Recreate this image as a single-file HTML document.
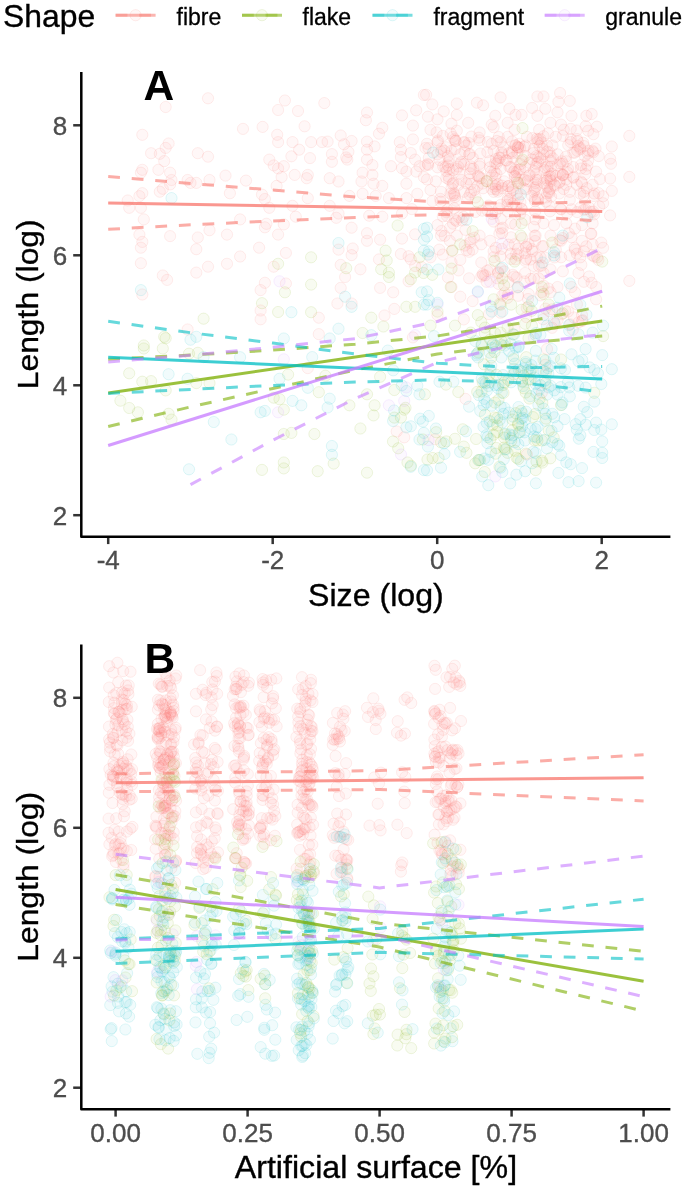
<!DOCTYPE html>
<html><head><meta charset="utf-8"><style>html,body{margin:0;padding:0;background:#fff}svg{display:block;will-change:transform;filter:blur(0.35px)}text{font-family:"Liberation Sans", sans-serif}</style></head>
<body><svg width="685" height="1189" viewBox="0 0 685 1189">
<rect width="685" height="1189" fill="#fff"/>
<defs><clipPath id="cA"><rect x="81.3" y="71.9" width="589.1" height="464.9"/></clipPath><clipPath id="cB"><rect x="81.3" y="644.4" width="589.1" height="464.9"/></clipPath></defs>
<text transform="translate(3.0,26.6) scale(1.045,1)" font-size="30.5" fill="#000" stroke="#000" stroke-width="0.35">Shape</text>
<circle cx="135.6" cy="15.2" r="5.6" fill="#F8766D" fill-opacity="0.055" stroke="#F8766D" stroke-opacity="0.12" stroke-width="1.0"/>
<line x1="115.6" y1="15.2" x2="155.6" y2="15.2" stroke="#F8766D" stroke-opacity="0.5319999999999999" stroke-width="3.0"/>
<line x1="115.6" y1="15.2" x2="155.6" y2="15.2" stroke="#F8766D" stroke-opacity="0.36" stroke-width="3.0" stroke-dasharray="11.8 11.8"/>
<text x="176.5" y="25" font-size="23" fill="#000" stroke="#000" stroke-width="0.3">fibre</text>
<circle cx="262.0" cy="15.2" r="5.6" fill="#7CAE00" fill-opacity="0.055" stroke="#7CAE00" stroke-opacity="0.12" stroke-width="1.0"/>
<line x1="242.0" y1="15.2" x2="282.0" y2="15.2" stroke="#7CAE00" stroke-opacity="0.5319999999999999" stroke-width="3.0"/>
<line x1="242.0" y1="15.2" x2="282.0" y2="15.2" stroke="#7CAE00" stroke-opacity="0.36" stroke-width="3.0" stroke-dasharray="11.8 11.8"/>
<text x="302.5" y="25" font-size="23" fill="#000" stroke="#000" stroke-width="0.3">flake</text>
<circle cx="392.5" cy="15.2" r="5.6" fill="#00BFC4" fill-opacity="0.055" stroke="#00BFC4" stroke-opacity="0.12" stroke-width="1.0"/>
<line x1="372.5" y1="15.2" x2="412.5" y2="15.2" stroke="#00BFC4" stroke-opacity="0.5319999999999999" stroke-width="3.0"/>
<line x1="372.5" y1="15.2" x2="412.5" y2="15.2" stroke="#00BFC4" stroke-opacity="0.36" stroke-width="3.0" stroke-dasharray="11.8 11.8"/>
<text x="433.4" y="25" font-size="23" fill="#000" stroke="#000" stroke-width="0.3">fragment</text>
<circle cx="564.7" cy="15.2" r="5.6" fill="#C77CFF" fill-opacity="0.055" stroke="#C77CFF" stroke-opacity="0.12" stroke-width="1.0"/>
<line x1="544.7" y1="15.2" x2="584.7" y2="15.2" stroke="#C77CFF" stroke-opacity="0.5319999999999999" stroke-width="3.0"/>
<line x1="544.7" y1="15.2" x2="584.7" y2="15.2" stroke="#C77CFF" stroke-opacity="0.36" stroke-width="3.0" stroke-dasharray="11.8 11.8"/>
<text x="605.3" y="25" font-size="23" fill="#000" stroke="#000" stroke-width="0.3">granule</text>
<g clip-path="url(#cA)">
<g fill="#F8766D" fill-opacity="0.055" stroke="#F8766D" stroke-opacity="0.12" stroke-width="1.0">
<circle cx="208.0" cy="98.3" r="5.6"/><circle cx="165.7" cy="107.0" r="5.6"/><circle cx="142.3" cy="134.8" r="5.6"/><circle cx="243.0" cy="128.9" r="5.6"/><circle cx="262.6" cy="126.9" r="5.6"/><circle cx="278.1" cy="110.0" r="5.6"/><circle cx="277.2" cy="134.8" r="5.6"/><circle cx="278.1" cy="142.1" r="5.6"/><circle cx="168.6" cy="143.5" r="5.6"/><circle cx="165.7" cy="147.9" r="5.6"/><circle cx="151.1" cy="153.2" r="5.6"/><circle cx="159.8" cy="153.8" r="5.6"/><circle cx="164.2" cy="161.1" r="5.6"/><circle cx="197.8" cy="153.2" r="5.6"/><circle cx="208.0" cy="156.7" r="5.6"/><circle cx="269.3" cy="159.6" r="5.6"/><circle cx="273.7" cy="165.4" r="5.6"/><circle cx="278.1" cy="168.4" r="5.6"/><circle cx="142.3" cy="169.8" r="5.6"/><circle cx="140.9" cy="172.7" r="5.6"/><circle cx="158.4" cy="169.8" r="5.6"/><circle cx="170.1" cy="172.7" r="5.6"/><circle cx="171.5" cy="180.0" r="5.6"/><circle cx="170.1" cy="184.4" r="5.6"/><circle cx="187.6" cy="180.0" r="5.6"/><circle cx="190.5" cy="182.9" r="5.6"/><circle cx="196.3" cy="182.9" r="5.6"/><circle cx="209.5" cy="180.0" r="5.6"/><circle cx="225.5" cy="175.6" r="5.6"/><circle cx="246.0" cy="180.6" r="5.6"/><circle cx="142.3" cy="193.2" r="5.6"/><circle cx="139.4" cy="196.1" r="5.6"/><circle cx="159.8" cy="191.7" r="5.6"/><circle cx="162.8" cy="188.8" r="5.6"/><circle cx="229.9" cy="193.2" r="5.6"/><circle cx="262.0" cy="194.6" r="5.6"/><circle cx="264.9" cy="199.0" r="5.6"/><circle cx="276.6" cy="185.9" r="5.6"/><circle cx="127.7" cy="200.5" r="5.6"/><circle cx="129.2" cy="207.8" r="5.6"/><circle cx="140.9" cy="207.8" r="5.6"/><circle cx="269.3" cy="207.8" r="5.6"/><circle cx="143.8" cy="219.4" r="5.6"/><circle cx="240.1" cy="219.4" r="5.6"/><circle cx="266.4" cy="223.8" r="5.6"/><circle cx="139.4" cy="234.6" r="5.6"/><circle cx="142.3" cy="241.9" r="5.6"/><circle cx="140.9" cy="247.7" r="5.6"/><circle cx="170.1" cy="236.1" r="5.6"/><circle cx="197.8" cy="237.5" r="5.6"/><circle cx="209.5" cy="230.2" r="5.6"/><circle cx="196.3" cy="249.2" r="5.6"/><circle cx="227.0" cy="234.6" r="5.6"/><circle cx="264.9" cy="227.3" r="5.6"/><circle cx="278.1" cy="234.6" r="5.6"/><circle cx="259.1" cy="247.7" r="5.6"/><circle cx="240.1" cy="256.5" r="5.6"/><circle cx="227.0" cy="263.8" r="5.6"/><circle cx="208.0" cy="266.7" r="5.6"/><circle cx="196.3" cy="272.6" r="5.6"/><circle cx="140.9" cy="263.2" r="5.6"/><circle cx="162.8" cy="275.5" r="5.6"/><circle cx="167.1" cy="279.9" r="5.6"/><circle cx="142.3" cy="294.5" r="5.6"/><circle cx="264.9" cy="282.8" r="5.6"/><circle cx="260.6" cy="290.1" r="5.6"/><circle cx="273.7" cy="266.7" r="5.6"/><circle cx="260.6" cy="310.5" r="5.6"/><circle cx="260.6" cy="319.3" r="5.6"/><circle cx="187.6" cy="329.5" r="5.6"/><circle cx="284.9" cy="100.5" r="5.6"/><circle cx="298.0" cy="111.0" r="5.6"/><circle cx="304.6" cy="126.3" r="5.6"/><circle cx="324.3" cy="103.1" r="5.6"/><circle cx="292.5" cy="142.1" r="5.6"/><circle cx="299.1" cy="149.7" r="5.6"/><circle cx="291.4" cy="156.3" r="5.6"/><circle cx="311.1" cy="142.1" r="5.6"/><circle cx="310.0" cy="158.1" r="5.6"/><circle cx="322.1" cy="142.1" r="5.6"/><circle cx="327.6" cy="141.6" r="5.6"/><circle cx="331.9" cy="154.1" r="5.6"/><circle cx="331.9" cy="161.8" r="5.6"/><circle cx="340.7" cy="135.5" r="5.6"/><circle cx="344.0" cy="144.3" r="5.6"/><circle cx="351.6" cy="141.0" r="5.6"/><circle cx="348.4" cy="151.9" r="5.6"/><circle cx="346.2" cy="157.4" r="5.6"/><circle cx="347.3" cy="159.6" r="5.6"/><circle cx="367.0" cy="112.5" r="5.6"/><circle cx="365.9" cy="120.2" r="5.6"/><circle cx="382.3" cy="127.8" r="5.6"/><circle cx="379.0" cy="133.7" r="5.6"/><circle cx="367.0" cy="141.6" r="5.6"/><circle cx="374.6" cy="146.4" r="5.6"/><circle cx="367.0" cy="149.7" r="5.6"/><circle cx="367.0" cy="159.6" r="5.6"/><circle cx="372.4" cy="165.1" r="5.6"/><circle cx="362.6" cy="172.7" r="5.6"/><circle cx="372.4" cy="174.9" r="5.6"/><circle cx="391.0" cy="166.2" r="5.6"/><circle cx="402.0" cy="115.4" r="5.6"/><circle cx="416.2" cy="110.3" r="5.6"/><circle cx="412.9" cy="125.6" r="5.6"/><circle cx="423.9" cy="95.0" r="5.6"/><circle cx="399.8" cy="142.1" r="5.6"/><circle cx="400.9" cy="149.7" r="5.6"/><circle cx="400.9" cy="157.0" r="5.6"/><circle cx="412.9" cy="139.4" r="5.6"/><circle cx="410.8" cy="153.0" r="5.6"/><circle cx="415.1" cy="159.6" r="5.6"/><circle cx="419.5" cy="166.2" r="5.6"/><circle cx="402.0" cy="168.3" r="5.6"/><circle cx="406.4" cy="171.6" r="5.6"/><circle cx="416.2" cy="171.6" r="5.6"/><circle cx="294.7" cy="174.9" r="5.6"/><circle cx="307.8" cy="174.9" r="5.6"/><circle cx="306.7" cy="178.2" r="5.6"/><circle cx="283.8" cy="166.2" r="5.6"/><circle cx="329.7" cy="178.2" r="5.6"/><circle cx="338.5" cy="181.5" r="5.6"/><circle cx="361.5" cy="181.5" r="5.6"/><circle cx="373.5" cy="183.7" r="5.6"/><circle cx="382.3" cy="185.9" r="5.6"/><circle cx="406.4" cy="183.7" r="5.6"/><circle cx="423.9" cy="177.1" r="5.6"/><circle cx="281.6" cy="177.1" r="5.6"/><circle cx="292.5" cy="205.8" r="5.6"/><circle cx="295.8" cy="216.7" r="5.6"/><circle cx="283.8" cy="224.4" r="5.6"/><circle cx="285.9" cy="252.9" r="5.6"/><circle cx="285.9" cy="283.5" r="5.6"/><circle cx="307.8" cy="198.1" r="5.6"/><circle cx="338.5" cy="213.5" r="5.6"/><circle cx="336.3" cy="217.8" r="5.6"/><circle cx="351.6" cy="227.7" r="5.6"/><circle cx="367.0" cy="233.2" r="5.6"/><circle cx="367.0" cy="240.8" r="5.6"/><circle cx="380.1" cy="239.7" r="5.6"/><circle cx="352.7" cy="248.5" r="5.6"/><circle cx="351.6" cy="255.1" r="5.6"/><circle cx="338.5" cy="249.6" r="5.6"/><circle cx="340.7" cy="264.9" r="5.6"/><circle cx="345.1" cy="277.0" r="5.6"/><circle cx="360.4" cy="269.3" r="5.6"/><circle cx="379.0" cy="259.4" r="5.6"/><circle cx="402.0" cy="238.6" r="5.6"/><circle cx="415.1" cy="234.3" r="5.6"/><circle cx="400.9" cy="254.0" r="5.6"/><circle cx="408.6" cy="256.2" r="5.6"/><circle cx="410.8" cy="259.4" r="5.6"/><circle cx="415.1" cy="266.0" r="5.6"/><circle cx="421.7" cy="267.1" r="5.6"/><circle cx="408.6" cy="281.3" r="5.6"/><circle cx="380.1" cy="287.9" r="5.6"/><circle cx="393.2" cy="292.3" r="5.6"/><circle cx="340.7" cy="287.9" r="5.6"/><circle cx="369.2" cy="215.7" r="5.6"/><circle cx="382.3" cy="216.7" r="5.6"/><circle cx="402.0" cy="213.5" r="5.6"/><circle cx="411.9" cy="209.1" r="5.6"/><circle cx="329.7" cy="205.8" r="5.6"/><circle cx="349.4" cy="195.9" r="5.6"/><circle cx="362.6" cy="193.8" r="5.6"/><circle cx="375.7" cy="195.9" r="5.6"/><circle cx="388.9" cy="198.1" r="5.6"/><circle cx="406.4" cy="198.1" r="5.6"/><circle cx="417.3" cy="193.8" r="5.6"/><circle cx="318.8" cy="317.7" r="5.6"/><circle cx="318.8" cy="334.1" r="5.6"/><circle cx="337.4" cy="303.5" r="5.6"/><circle cx="351.6" cy="303.5" r="5.6"/><circle cx="384.5" cy="315.5" r="5.6"/><circle cx="394.3" cy="308.9" r="5.6"/><circle cx="412.9" cy="337.4" r="5.6"/><circle cx="307.8" cy="368.1" r="5.6"/><circle cx="404.2" cy="437.3" r="5.6"/><circle cx="426.1" cy="94.8" r="5.6"/><circle cx="432.3" cy="104.4" r="5.6"/><circle cx="443.7" cy="111.4" r="5.6"/><circle cx="456.8" cy="103.5" r="5.6"/><circle cx="476.9" cy="102.7" r="5.6"/><circle cx="483.1" cy="105.3" r="5.6"/><circle cx="500.6" cy="97.4" r="5.6"/><circle cx="456.8" cy="114.9" r="5.6"/><circle cx="468.2" cy="122.8" r="5.6"/><circle cx="427.9" cy="116.7" r="5.6"/><circle cx="437.5" cy="119.3" r="5.6"/><circle cx="451.5" cy="123.7" r="5.6"/><circle cx="456.8" cy="130.7" r="5.6"/><circle cx="430.5" cy="129.8" r="5.6"/><circle cx="436.6" cy="132.4" r="5.6"/><circle cx="442.8" cy="135.9" r="5.6"/><circle cx="450.7" cy="133.3" r="5.6"/><circle cx="427.0" cy="143.8" r="5.6"/><circle cx="437.5" cy="142.1" r="5.6"/><circle cx="446.3" cy="147.3" r="5.6"/><circle cx="455.0" cy="149.1" r="5.6"/><circle cx="463.8" cy="142.1" r="5.6"/><circle cx="466.4" cy="145.6" r="5.6"/><circle cx="479.6" cy="132.4" r="5.6"/><circle cx="478.7" cy="137.7" r="5.6"/><circle cx="479.6" cy="140.3" r="5.6"/><circle cx="491.8" cy="143.8" r="5.6"/><circle cx="493.6" cy="127.2" r="5.6"/><circle cx="491.8" cy="124.6" r="5.6"/><circle cx="495.3" cy="115.8" r="5.6"/><circle cx="509.3" cy="108.8" r="5.6"/><circle cx="515.5" cy="114.9" r="5.6"/><circle cx="521.6" cy="114.9" r="5.6"/><circle cx="507.6" cy="122.8" r="5.6"/><circle cx="532.1" cy="107.9" r="5.6"/><circle cx="537.4" cy="96.5" r="5.6"/><circle cx="537.4" cy="115.8" r="5.6"/><circle cx="514.6" cy="129.8" r="5.6"/><circle cx="526.9" cy="136.8" r="5.6"/><circle cx="507.6" cy="136.8" r="5.6"/><circle cx="500.6" cy="142.1" r="5.6"/><circle cx="493.6" cy="150.8" r="5.6"/><circle cx="518.1" cy="147.3" r="5.6"/><circle cx="533.9" cy="149.1" r="5.6"/><circle cx="480.4" cy="153.5" r="5.6"/><circle cx="469.1" cy="154.3" r="5.6"/><circle cx="460.3" cy="154.3" r="5.6"/><circle cx="448.0" cy="156.1" r="5.6"/><circle cx="437.5" cy="154.3" r="5.6"/><circle cx="428.8" cy="157.8" r="5.6"/><circle cx="502.3" cy="154.3" r="5.6"/><circle cx="512.9" cy="157.8" r="5.6"/><circle cx="525.1" cy="156.1" r="5.6"/><circle cx="537.4" cy="142.1" r="5.6"/><circle cx="536.5" cy="156.1" r="5.6"/><circle cx="539.1" cy="129.8" r="5.6"/><circle cx="560.1" cy="93.0" r="5.6"/><circle cx="558.4" cy="101.8" r="5.6"/><circle cx="569.8" cy="100.9" r="5.6"/><circle cx="543.5" cy="96.5" r="5.6"/><circle cx="545.3" cy="108.8" r="5.6"/><circle cx="557.5" cy="112.3" r="5.6"/><circle cx="571.5" cy="115.8" r="5.6"/><circle cx="586.4" cy="115.8" r="5.6"/><circle cx="591.7" cy="114.0" r="5.6"/><circle cx="550.5" cy="122.8" r="5.6"/><circle cx="561.0" cy="124.6" r="5.6"/><circle cx="570.7" cy="128.9" r="5.6"/><circle cx="585.6" cy="126.3" r="5.6"/><circle cx="588.2" cy="130.7" r="5.6"/><circle cx="593.4" cy="134.2" r="5.6"/><circle cx="547.9" cy="133.3" r="5.6"/><circle cx="555.8" cy="136.8" r="5.6"/><circle cx="562.8" cy="135.9" r="5.6"/><circle cx="547.0" cy="145.6" r="5.6"/><circle cx="570.7" cy="142.1" r="5.6"/><circle cx="577.7" cy="141.2" r="5.6"/><circle cx="629.3" cy="135.9" r="5.6"/><circle cx="611.8" cy="146.5" r="5.6"/><circle cx="610.1" cy="158.7" r="5.6"/><circle cx="592.6" cy="150.8" r="5.6"/><circle cx="598.7" cy="156.1" r="5.6"/><circle cx="584.7" cy="156.1" r="5.6"/><circle cx="588.2" cy="160.5" r="5.6"/><circle cx="573.3" cy="152.6" r="5.6"/><circle cx="557.5" cy="154.3" r="5.6"/><circle cx="550.5" cy="156.1" r="5.6"/><circle cx="543.5" cy="154.3" r="5.6"/><circle cx="566.3" cy="161.3" r="5.6"/><circle cx="541.8" cy="161.3" r="5.6"/><circle cx="580.3" cy="149.1" r="5.6"/><circle cx="425.3" cy="165.5" r="5.6"/><circle cx="437.5" cy="167.3" r="5.6"/><circle cx="448.0" cy="165.5" r="5.6"/><circle cx="456.8" cy="169.0" r="5.6"/><circle cx="470.8" cy="169.0" r="5.6"/><circle cx="479.6" cy="166.4" r="5.6"/><circle cx="490.1" cy="167.3" r="5.6"/><circle cx="500.6" cy="169.0" r="5.6"/><circle cx="511.1" cy="167.3" r="5.6"/><circle cx="525.1" cy="167.3" r="5.6"/><circle cx="533.9" cy="170.8" r="5.6"/><circle cx="427.0" cy="179.5" r="5.6"/><circle cx="435.8" cy="181.3" r="5.6"/><circle cx="446.3" cy="177.8" r="5.6"/><circle cx="458.5" cy="184.8" r="5.6"/><circle cx="469.1" cy="179.5" r="5.6"/><circle cx="477.8" cy="176.0" r="5.6"/><circle cx="495.3" cy="177.8" r="5.6"/><circle cx="504.1" cy="181.3" r="5.6"/><circle cx="514.6" cy="176.0" r="5.6"/><circle cx="525.1" cy="179.5" r="5.6"/><circle cx="535.6" cy="183.0" r="5.6"/><circle cx="430.5" cy="190.0" r="5.6"/><circle cx="441.0" cy="191.8" r="5.6"/><circle cx="451.5" cy="188.3" r="5.6"/><circle cx="463.8" cy="191.8" r="5.6"/><circle cx="474.3" cy="190.0" r="5.6"/><circle cx="483.1" cy="188.3" r="5.6"/><circle cx="493.6" cy="191.8" r="5.6"/><circle cx="502.3" cy="188.3" r="5.6"/><circle cx="512.9" cy="190.0" r="5.6"/><circle cx="523.4" cy="188.3" r="5.6"/><circle cx="533.9" cy="191.8" r="5.6"/><circle cx="455.0" cy="197.0" r="5.6"/><circle cx="518.1" cy="198.8" r="5.6"/><circle cx="442.8" cy="216.3" r="5.6"/><circle cx="455.0" cy="219.8" r="5.6"/><circle cx="437.5" cy="225.1" r="5.6"/><circle cx="493.6" cy="221.6" r="5.6"/><circle cx="500.6" cy="228.6" r="5.6"/><circle cx="511.1" cy="223.3" r="5.6"/><circle cx="525.1" cy="219.8" r="5.6"/><circle cx="533.9" cy="226.8" r="5.6"/><circle cx="441.0" cy="235.6" r="5.6"/><circle cx="449.8" cy="240.8" r="5.6"/><circle cx="456.8" cy="235.6" r="5.6"/><circle cx="479.6" cy="235.6" r="5.6"/><circle cx="481.3" cy="244.3" r="5.6"/><circle cx="490.1" cy="240.8" r="5.6"/><circle cx="511.1" cy="237.3" r="5.6"/><circle cx="514.6" cy="244.3" r="5.6"/><circle cx="528.6" cy="244.3" r="5.6"/><circle cx="535.6" cy="235.6" r="5.6"/><circle cx="439.3" cy="249.6" r="5.6"/><circle cx="472.6" cy="249.6" r="5.6"/><circle cx="493.6" cy="251.3" r="5.6"/><circle cx="525.1" cy="253.1" r="5.6"/><circle cx="545.3" cy="167.3" r="5.6"/><circle cx="557.5" cy="165.5" r="5.6"/><circle cx="568.0" cy="169.0" r="5.6"/><circle cx="550.5" cy="176.0" r="5.6"/><circle cx="562.8" cy="174.3" r="5.6"/><circle cx="573.3" cy="177.8" r="5.6"/><circle cx="543.5" cy="183.0" r="5.6"/><circle cx="554.0" cy="184.8" r="5.6"/><circle cx="566.3" cy="184.8" r="5.6"/><circle cx="576.8" cy="184.8" r="5.6"/><circle cx="547.0" cy="193.5" r="5.6"/><circle cx="559.3" cy="193.5" r="5.6"/><circle cx="569.8" cy="191.8" r="5.6"/><circle cx="582.0" cy="183.0" r="5.6"/><circle cx="583.8" cy="191.8" r="5.6"/><circle cx="592.6" cy="184.8" r="5.6"/><circle cx="596.1" cy="171.6" r="5.6"/><circle cx="610.1" cy="178.6" r="5.6"/><circle cx="611.0" cy="163.8" r="5.6"/><circle cx="611.8" cy="190.9" r="5.6"/><circle cx="603.1" cy="196.2" r="5.6"/><circle cx="594.3" cy="193.5" r="5.6"/><circle cx="603.1" cy="203.2" r="5.6"/><circle cx="587.3" cy="165.5" r="5.6"/><circle cx="629.3" cy="176.9" r="5.6"/><circle cx="610.1" cy="215.4" r="5.6"/><circle cx="592.6" cy="223.3" r="5.6"/><circle cx="585.6" cy="209.3" r="5.6"/><circle cx="571.5" cy="209.3" r="5.6"/><circle cx="543.5" cy="223.3" r="5.6"/><circle cx="554.0" cy="225.1" r="5.6"/><circle cx="566.3" cy="223.3" r="5.6"/><circle cx="575.0" cy="228.6" r="5.6"/><circle cx="582.0" cy="225.1" r="5.6"/><circle cx="590.8" cy="233.8" r="5.6"/><circle cx="601.3" cy="242.6" r="5.6"/><circle cx="603.1" cy="247.8" r="5.6"/><circle cx="592.6" cy="244.3" r="5.6"/><circle cx="582.0" cy="240.8" r="5.6"/><circle cx="571.5" cy="237.3" r="5.6"/><circle cx="561.0" cy="240.8" r="5.6"/><circle cx="550.5" cy="235.6" r="5.6"/><circle cx="543.5" cy="246.1" r="5.6"/><circle cx="555.8" cy="249.6" r="5.6"/><circle cx="575.0" cy="249.6" r="5.6"/><circle cx="583.8" cy="251.3" r="5.6"/><circle cx="442.8" cy="254.6" r="5.6"/><circle cx="451.5" cy="262.5" r="5.6"/><circle cx="458.5" cy="270.4" r="5.6"/><circle cx="448.0" cy="277.4" r="5.6"/><circle cx="469.1" cy="278.3" r="5.6"/><circle cx="460.3" cy="296.7" r="5.6"/><circle cx="472.6" cy="301.1" r="5.6"/><circle cx="481.3" cy="276.5" r="5.6"/><circle cx="486.6" cy="281.8" r="5.6"/><circle cx="490.1" cy="269.5" r="5.6"/><circle cx="500.6" cy="268.6" r="5.6"/><circle cx="481.3" cy="262.5" r="5.6"/><circle cx="493.6" cy="257.3" r="5.6"/><circle cx="511.1" cy="259.0" r="5.6"/><circle cx="518.1" cy="255.5" r="5.6"/><circle cx="525.1" cy="260.8" r="5.6"/><circle cx="533.9" cy="266.0" r="5.6"/><circle cx="525.1" cy="273.0" r="5.6"/><circle cx="533.9" cy="278.3" r="5.6"/><circle cx="512.9" cy="274.8" r="5.6"/><circle cx="518.1" cy="295.8" r="5.6"/><circle cx="528.6" cy="294.0" r="5.6"/><circle cx="463.8" cy="319.4" r="5.6"/><circle cx="437.5" cy="315.1" r="5.6"/><circle cx="430.5" cy="257.3" r="5.6"/><circle cx="451.5" cy="287.0" r="5.6"/><circle cx="561.0" cy="257.3" r="5.6"/><circle cx="569.8" cy="255.5" r="5.6"/><circle cx="580.3" cy="257.3" r="5.6"/><circle cx="592.6" cy="255.5" r="5.6"/><circle cx="550.5" cy="269.5" r="5.6"/><circle cx="562.8" cy="271.3" r="5.6"/><circle cx="578.5" cy="273.0" r="5.6"/><circle cx="589.1" cy="276.5" r="5.6"/><circle cx="583.8" cy="281.8" r="5.6"/><circle cx="596.1" cy="287.0" r="5.6"/><circle cx="596.1" cy="299.3" r="5.6"/><circle cx="550.5" cy="292.3" r="5.6"/><circle cx="557.5" cy="287.0" r="5.6"/><circle cx="571.5" cy="287.0" r="5.6"/><circle cx="575.0" cy="292.3" r="5.6"/><circle cx="629.3" cy="280.9" r="5.6"/><circle cx="568.0" cy="311.6" r="5.6"/><circle cx="582.0" cy="315.1" r="5.6"/><circle cx="557.5" cy="320.3" r="5.6"/><circle cx="526.9" cy="454.5" r="5.6"/><circle cx="547.0" cy="349.0" r="5.6"/><circle cx="545.3" cy="364.8" r="5.6"/><circle cx="541.8" cy="392.8" r="5.6"/><circle cx="453.3" cy="182.9" r="5.6"/><circle cx="486.9" cy="181.0" r="5.6"/><circle cx="470.9" cy="183.9" r="5.6"/><circle cx="536.0" cy="179.4" r="5.6"/><circle cx="520.5" cy="164.1" r="5.6"/><circle cx="466.3" cy="183.3" r="5.6"/><circle cx="494.4" cy="171.5" r="5.6"/><circle cx="467.9" cy="198.0" r="5.6"/><circle cx="497.9" cy="184.2" r="5.6"/><circle cx="427.8" cy="164.0" r="5.6"/><circle cx="445.4" cy="167.2" r="5.6"/><circle cx="538.0" cy="162.1" r="5.6"/><circle cx="463.9" cy="164.2" r="5.6"/><circle cx="496.8" cy="163.8" r="5.6"/><circle cx="428.2" cy="165.0" r="5.6"/><circle cx="452.6" cy="183.9" r="5.6"/><circle cx="516.7" cy="172.2" r="5.6"/><circle cx="454.0" cy="193.3" r="5.6"/><circle cx="509.5" cy="166.8" r="5.6"/><circle cx="516.8" cy="193.6" r="5.6"/><circle cx="547.1" cy="185.8" r="5.6"/><circle cx="547.9" cy="171.3" r="5.6"/><circle cx="559.8" cy="181.8" r="5.6"/><circle cx="559.2" cy="182.6" r="5.6"/><circle cx="548.5" cy="191.6" r="5.6"/><circle cx="551.1" cy="196.7" r="5.6"/><circle cx="560.6" cy="173.5" r="5.6"/><circle cx="547.0" cy="180.4" r="5.6"/><circle cx="555.1" cy="185.7" r="5.6"/><circle cx="559.9" cy="163.4" r="5.6"/><circle cx="570.8" cy="139.1" r="5.6"/><circle cx="569.8" cy="200.0" r="5.6"/><circle cx="586.7" cy="188.2" r="5.6"/><circle cx="453.1" cy="170.4" r="5.6"/><circle cx="501.9" cy="185.6" r="5.6"/><circle cx="491.7" cy="189.1" r="5.6"/><circle cx="460.7" cy="163.3" r="5.6"/><circle cx="520.1" cy="169.2" r="5.6"/><circle cx="446.4" cy="212.3" r="5.6"/><circle cx="546.0" cy="201.6" r="5.6"/><circle cx="487.6" cy="210.6" r="5.6"/><circle cx="567.2" cy="213.4" r="5.6"/><circle cx="459.5" cy="173.2" r="5.6"/><circle cx="492.5" cy="184.1" r="5.6"/><circle cx="468.8" cy="143.0" r="5.6"/><circle cx="508.4" cy="186.2" r="5.6"/><circle cx="492.2" cy="214.0" r="5.6"/><circle cx="496.0" cy="159.0" r="5.6"/><circle cx="567.4" cy="172.3" r="5.6"/><circle cx="472.8" cy="157.9" r="5.6"/><circle cx="590.8" cy="211.9" r="5.6"/><circle cx="538.1" cy="157.3" r="5.6"/><circle cx="549.5" cy="152.3" r="5.6"/><circle cx="481.4" cy="178.3" r="5.6"/><circle cx="495.2" cy="163.1" r="5.6"/><circle cx="595.5" cy="148.6" r="5.6"/><circle cx="532.4" cy="138.1" r="5.6"/><circle cx="441.1" cy="151.8" r="5.6"/><circle cx="598.5" cy="193.1" r="5.6"/><circle cx="576.9" cy="139.0" r="5.6"/><circle cx="544.3" cy="170.2" r="5.6"/><circle cx="497.9" cy="191.7" r="5.6"/><circle cx="479.0" cy="176.1" r="5.6"/><circle cx="470.6" cy="166.3" r="5.6"/><circle cx="518.3" cy="147.6" r="5.6"/><circle cx="473.3" cy="168.6" r="5.6"/><circle cx="507.7" cy="199.0" r="5.6"/><circle cx="537.5" cy="180.0" r="5.6"/><circle cx="577.2" cy="150.8" r="5.6"/><circle cx="443.2" cy="166.5" r="5.6"/><circle cx="449.0" cy="179.5" r="5.6"/><circle cx="525.4" cy="145.5" r="5.6"/><circle cx="550.3" cy="179.5" r="5.6"/><circle cx="499.1" cy="208.4" r="5.6"/><circle cx="574.8" cy="152.7" r="5.6"/><circle cx="454.2" cy="208.2" r="5.6"/><circle cx="452.5" cy="195.6" r="5.6"/><circle cx="479.7" cy="163.9" r="5.6"/><circle cx="521.9" cy="209.1" r="5.6"/><circle cx="425.4" cy="148.0" r="5.6"/><circle cx="551.0" cy="166.6" r="5.6"/><circle cx="475.4" cy="212.0" r="5.6"/><circle cx="471.2" cy="192.1" r="5.6"/><circle cx="593.7" cy="196.0" r="5.6"/><circle cx="549.1" cy="192.9" r="5.6"/><circle cx="565.9" cy="156.7" r="5.6"/><circle cx="534.7" cy="199.2" r="5.6"/><circle cx="580.4" cy="207.5" r="5.6"/><circle cx="583.2" cy="142.8" r="5.6"/><circle cx="490.9" cy="171.5" r="5.6"/><circle cx="581.0" cy="168.5" r="5.6"/><circle cx="471.4" cy="136.6" r="5.6"/><circle cx="475.5" cy="197.5" r="5.6"/><circle cx="428.5" cy="148.2" r="5.6"/><circle cx="479.4" cy="177.6" r="5.6"/><circle cx="488.5" cy="205.6" r="5.6"/><circle cx="461.3" cy="179.9" r="5.6"/><circle cx="561.1" cy="209.4" r="5.6"/><circle cx="577.9" cy="145.8" r="5.6"/><circle cx="563.6" cy="189.0" r="5.6"/><circle cx="498.8" cy="137.0" r="5.6"/><circle cx="454.4" cy="195.0" r="5.6"/><circle cx="439.7" cy="160.0" r="5.6"/><circle cx="469.7" cy="194.7" r="5.6"/><circle cx="487.8" cy="142.0" r="5.6"/><circle cx="489.8" cy="161.1" r="5.6"/><circle cx="550.5" cy="160.6" r="5.6"/><circle cx="546.4" cy="178.1" r="5.6"/><circle cx="580.4" cy="193.7" r="5.6"/><circle cx="496.4" cy="173.8" r="5.6"/><circle cx="507.5" cy="204.7" r="5.6"/><circle cx="449.2" cy="168.9" r="5.6"/><circle cx="518.6" cy="169.9" r="5.6"/><circle cx="529.7" cy="174.9" r="5.6"/><circle cx="497.4" cy="189.9" r="5.6"/><circle cx="482.6" cy="183.6" r="5.6"/><circle cx="552.5" cy="145.5" r="5.6"/><circle cx="482.1" cy="210.6" r="5.6"/><circle cx="594.1" cy="214.4" r="5.6"/><circle cx="432.4" cy="201.1" r="5.6"/><circle cx="588.7" cy="207.2" r="5.6"/><circle cx="550.1" cy="189.0" r="5.6"/><circle cx="550.9" cy="181.0" r="5.6"/><circle cx="563.0" cy="175.2" r="5.6"/><circle cx="464.5" cy="142.5" r="5.6"/><circle cx="583.9" cy="195.4" r="5.6"/><circle cx="456.0" cy="200.8" r="5.6"/><circle cx="477.6" cy="185.9" r="5.6"/><circle cx="487.3" cy="152.1" r="5.6"/><circle cx="455.7" cy="140.7" r="5.6"/><circle cx="438.0" cy="140.5" r="5.6"/><circle cx="440.7" cy="201.7" r="5.6"/><circle cx="515.6" cy="145.3" r="5.6"/><circle cx="516.9" cy="178.4" r="5.6"/><circle cx="511.9" cy="151.5" r="5.6"/><circle cx="501.0" cy="204.7" r="5.6"/><circle cx="492.2" cy="175.3" r="5.6"/><circle cx="587.8" cy="153.6" r="5.6"/><circle cx="552.0" cy="173.7" r="5.6"/><circle cx="562.8" cy="163.8" r="5.6"/><circle cx="540.5" cy="257.4" r="5.6"/><circle cx="582.6" cy="320.2" r="5.6"/><circle cx="552.1" cy="327.8" r="5.6"/><circle cx="565.2" cy="310.5" r="5.6"/><circle cx="586.3" cy="246.3" r="5.6"/><circle cx="598.3" cy="259.9" r="5.6"/><circle cx="534.6" cy="235.7" r="5.6"/><circle cx="576.8" cy="253.7" r="5.6"/><circle cx="559.6" cy="240.1" r="5.6"/><circle cx="515.7" cy="259.2" r="5.6"/><circle cx="500.8" cy="219.0" r="5.6"/><circle cx="570.1" cy="324.3" r="5.6"/><circle cx="499.4" cy="233.7" r="5.6"/><circle cx="515.2" cy="224.5" r="5.6"/><circle cx="554.5" cy="257.4" r="5.6"/><circle cx="543.1" cy="319.2" r="5.6"/><circle cx="582.0" cy="321.0" r="5.6"/><circle cx="591.6" cy="282.8" r="5.6"/><circle cx="535.3" cy="219.3" r="5.6"/><circle cx="483.3" cy="275.3" r="5.6"/><circle cx="581.3" cy="264.8" r="5.6"/><circle cx="470.5" cy="239.4" r="5.6"/><circle cx="568.8" cy="233.2" r="5.6"/><circle cx="495.9" cy="247.8" r="5.6"/><circle cx="549.2" cy="311.2" r="5.6"/><circle cx="498.5" cy="283.9" r="5.6"/><circle cx="538.9" cy="266.2" r="5.6"/><circle cx="545.5" cy="308.6" r="5.6"/><circle cx="498.3" cy="272.2" r="5.6"/><circle cx="482.7" cy="274.0" r="5.6"/><circle cx="572.8" cy="329.8" r="5.6"/><circle cx="531.8" cy="249.1" r="5.6"/><circle cx="545.3" cy="257.8" r="5.6"/><circle cx="485.2" cy="275.3" r="5.6"/><circle cx="573.9" cy="317.5" r="5.6"/><circle cx="597.2" cy="257.3" r="5.6"/><circle cx="502.7" cy="227.7" r="5.6"/><circle cx="526.7" cy="307.8" r="5.6"/><circle cx="500.5" cy="312.7" r="5.6"/><circle cx="562.5" cy="238.1" r="5.6"/><circle cx="552.1" cy="309.3" r="5.6"/><circle cx="591.3" cy="233.7" r="5.6"/><circle cx="576.9" cy="304.2" r="5.6"/><circle cx="501.7" cy="248.9" r="5.6"/><circle cx="594.4" cy="256.6" r="5.6"/><circle cx="507.6" cy="297.8" r="5.6"/><circle cx="487.3" cy="270.6" r="5.6"/><circle cx="516.6" cy="277.6" r="5.6"/><circle cx="548.4" cy="288.6" r="5.6"/><circle cx="526.2" cy="317.0" r="5.6"/><circle cx="578.6" cy="322.3" r="5.6"/><circle cx="528.0" cy="299.0" r="5.6"/><circle cx="526.0" cy="247.1" r="5.6"/><circle cx="554.7" cy="323.8" r="5.6"/><circle cx="574.6" cy="247.8" r="5.6"/><circle cx="499.7" cy="303.7" r="5.6"/><circle cx="561.7" cy="314.3" r="5.6"/><circle cx="489.0" cy="314.1" r="5.6"/><circle cx="526.2" cy="246.4" r="5.6"/><circle cx="514.6" cy="329.3" r="5.6"/><circle cx="542.8" cy="148.8" r="5.6"/><circle cx="510.8" cy="253.7" r="5.6"/><circle cx="496.8" cy="140.9" r="5.6"/><circle cx="497.2" cy="278.3" r="5.6"/><circle cx="511.7" cy="187.6" r="5.6"/><circle cx="534.7" cy="187.6" r="5.6"/><circle cx="531.9" cy="195.9" r="5.6"/><circle cx="509.9" cy="198.9" r="5.6"/><circle cx="503.4" cy="147.4" r="5.6"/><circle cx="538.6" cy="278.3" r="5.6"/><circle cx="518.0" cy="248.6" r="5.6"/><circle cx="538.1" cy="199.5" r="5.6"/><circle cx="530.6" cy="259.5" r="5.6"/><circle cx="498.9" cy="157.8" r="5.6"/><circle cx="532.5" cy="251.4" r="5.6"/><circle cx="504.3" cy="271.4" r="5.6"/><circle cx="535.0" cy="189.9" r="5.6"/><circle cx="512.0" cy="153.2" r="5.6"/><circle cx="517.3" cy="153.1" r="5.6"/><circle cx="522.2" cy="238.1" r="5.6"/><circle cx="524.1" cy="146.8" r="5.6"/><circle cx="526.1" cy="259.1" r="5.6"/><circle cx="502.1" cy="233.2" r="5.6"/><circle cx="536.0" cy="166.9" r="5.6"/><circle cx="540.7" cy="295.4" r="5.6"/><circle cx="530.6" cy="278.9" r="5.6"/><circle cx="508.6" cy="244.7" r="5.6"/><circle cx="541.3" cy="142.4" r="5.6"/><circle cx="536.0" cy="174.1" r="5.6"/><circle cx="535.1" cy="241.0" r="5.6"/><circle cx="535.1" cy="201.2" r="5.6"/><circle cx="517.5" cy="287.5" r="5.6"/><circle cx="498.6" cy="160.8" r="5.6"/><circle cx="543.6" cy="285.7" r="5.6"/><circle cx="502.3" cy="295.6" r="5.6"/><circle cx="508.3" cy="282.2" r="5.6"/><circle cx="540.2" cy="138.9" r="5.6"/><circle cx="495.5" cy="189.0" r="5.6"/><circle cx="541.6" cy="265.6" r="5.6"/><circle cx="514.3" cy="276.6" r="5.6"/><circle cx="510.4" cy="192.3" r="5.6"/><circle cx="504.5" cy="293.3" r="5.6"/><circle cx="535.2" cy="211.3" r="5.6"/><circle cx="508.2" cy="294.4" r="5.6"/><circle cx="514.8" cy="169.8" r="5.6"/><circle cx="516.2" cy="253.7" r="5.6"/><circle cx="533.5" cy="153.0" r="5.6"/><circle cx="542.3" cy="246.3" r="5.6"/><circle cx="498.1" cy="273.2" r="5.6"/><circle cx="543.6" cy="273.2" r="5.6"/><circle cx="495.5" cy="213.1" r="5.6"/><circle cx="524.5" cy="281.5" r="5.6"/><circle cx="520.1" cy="147.8" r="5.6"/><circle cx="541.7" cy="292.0" r="5.6"/><circle cx="519.3" cy="143.8" r="5.6"/><circle cx="536.9" cy="257.4" r="5.6"/><circle cx="543.6" cy="136.2" r="5.6"/><circle cx="516.8" cy="181.8" r="5.6"/><circle cx="500.4" cy="256.3" r="5.6"/><circle cx="512.1" cy="141.4" r="5.6"/><circle cx="444.7" cy="235.8" r="5.6"/><circle cx="461.2" cy="161.9" r="5.6"/><circle cx="464.4" cy="151.3" r="5.6"/><circle cx="463.6" cy="216.9" r="5.6"/><circle cx="440.2" cy="198.9" r="5.6"/><circle cx="465.4" cy="229.8" r="5.6"/><circle cx="464.7" cy="245.6" r="5.6"/><circle cx="466.5" cy="250.2" r="5.6"/><circle cx="454.5" cy="139.3" r="5.6"/><circle cx="446.3" cy="171.0" r="5.6"/><circle cx="441.5" cy="148.5" r="5.6"/><circle cx="458.2" cy="166.6" r="5.6"/><circle cx="450.0" cy="227.7" r="5.6"/><circle cx="469.9" cy="242.8" r="5.6"/><circle cx="453.0" cy="223.7" r="5.6"/><circle cx="469.8" cy="153.9" r="5.6"/><circle cx="447.0" cy="216.0" r="5.6"/><circle cx="449.3" cy="159.1" r="5.6"/><circle cx="452.9" cy="137.0" r="5.6"/><circle cx="455.3" cy="140.9" r="5.6"/><circle cx="448.6" cy="162.2" r="5.6"/><circle cx="451.5" cy="150.7" r="5.6"/><circle cx="456.5" cy="221.0" r="5.6"/><circle cx="451.9" cy="250.9" r="5.6"/><circle cx="470.1" cy="173.3" r="5.6"/><circle cx="441.4" cy="231.0" r="5.6"/><circle cx="448.4" cy="176.5" r="5.6"/><circle cx="460.3" cy="259.9" r="5.6"/><circle cx="450.5" cy="193.6" r="5.6"/><circle cx="462.0" cy="220.4" r="5.6"/><circle cx="447.4" cy="209.4" r="5.6"/><circle cx="459.0" cy="217.3" r="5.6"/><circle cx="444.0" cy="150.8" r="5.6"/><circle cx="474.1" cy="237.7" r="5.6"/><circle cx="469.0" cy="251.8" r="5.6"/><circle cx="547.8" cy="166.5" r="5.6"/><circle cx="536.5" cy="186.3" r="5.6"/><circle cx="525.8" cy="189.3" r="5.6"/><circle cx="512.6" cy="204.0" r="5.6"/><circle cx="517.4" cy="146.9" r="5.6"/><circle cx="495.6" cy="186.1" r="5.6"/><circle cx="507.7" cy="211.5" r="5.6"/><circle cx="505.7" cy="160.3" r="5.6"/><circle cx="549.1" cy="176.6" r="5.6"/><circle cx="545.7" cy="197.5" r="5.6"/><circle cx="501.5" cy="152.3" r="5.6"/><circle cx="516.3" cy="205.5" r="5.6"/><circle cx="513.4" cy="172.0" r="5.6"/><circle cx="521.4" cy="161.0" r="5.6"/><circle cx="538.3" cy="139.4" r="5.6"/><circle cx="507.4" cy="201.0" r="5.6"/><circle cx="528.9" cy="175.9" r="5.6"/><circle cx="515.3" cy="145.4" r="5.6"/><circle cx="520.1" cy="214.0" r="5.6"/><circle cx="527.7" cy="181.1" r="5.6"/><circle cx="549.5" cy="205.8" r="5.6"/><circle cx="550.0" cy="211.3" r="5.6"/><circle cx="531.7" cy="159.4" r="5.6"/><circle cx="529.5" cy="162.9" r="5.6"/><circle cx="539.6" cy="146.0" r="5.6"/><circle cx="520.4" cy="202.3" r="5.6"/><circle cx="520.0" cy="183.1" r="5.6"/><circle cx="500.4" cy="157.8" r="5.6"/><circle cx="547.5" cy="187.6" r="5.6"/><circle cx="515.1" cy="176.4" r="5.6"/><circle cx="537.6" cy="198.0" r="5.6"/><circle cx="540.5" cy="158.2" r="5.6"/><circle cx="508.1" cy="186.1" r="5.6"/><circle cx="524.0" cy="180.2" r="5.6"/><circle cx="506.8" cy="160.5" r="5.6"/><circle cx="536.4" cy="163.7" r="5.6"/><circle cx="536.7" cy="138.7" r="5.6"/><circle cx="547.3" cy="151.6" r="5.6"/><circle cx="521.3" cy="208.7" r="5.6"/><circle cx="508.9" cy="153.2" r="5.6"/><circle cx="599.3" cy="206.4" r="5.6"/><circle cx="576.6" cy="130.5" r="5.6"/><circle cx="580.2" cy="147.6" r="5.6"/><circle cx="560.7" cy="208.9" r="5.6"/><circle cx="581.0" cy="165.0" r="5.6"/><circle cx="553.1" cy="158.4" r="5.6"/><circle cx="593.2" cy="152.2" r="5.6"/><circle cx="566.1" cy="179.6" r="5.6"/><circle cx="562.6" cy="175.1" r="5.6"/><circle cx="588.4" cy="150.8" r="5.6"/><circle cx="573.6" cy="176.9" r="5.6"/><circle cx="568.2" cy="145.1" r="5.6"/><circle cx="555.7" cy="175.9" r="5.6"/><circle cx="596.9" cy="126.7" r="5.6"/><circle cx="593.3" cy="211.6" r="5.6"/><circle cx="577.1" cy="212.1" r="5.6"/><circle cx="585.2" cy="174.1" r="5.6"/><circle cx="573.2" cy="167.0" r="5.6"/><circle cx="584.1" cy="146.1" r="5.6"/><circle cx="585.8" cy="169.2" r="5.6"/><circle cx="583.7" cy="209.7" r="5.6"/><circle cx="561.7" cy="161.3" r="5.6"/><circle cx="563.8" cy="129.7" r="5.6"/><circle cx="581.1" cy="181.6" r="5.6"/><circle cx="600.0" cy="179.1" r="5.6"/><circle cx="396.7" cy="431.5" r="5.6"/><circle cx="435.1" cy="439.2" r="5.6"/><circle cx="465.5" cy="398.9" r="5.6"/>
</g>
<g fill="#7CAE00" fill-opacity="0.055" stroke="#7CAE00" stroke-opacity="0.12" stroke-width="1.0">
<circle cx="278.1" cy="263.8" r="5.6"/><circle cx="262.0" cy="303.2" r="5.6"/><circle cx="278.1" cy="312.0" r="5.6"/><circle cx="203.6" cy="318.7" r="5.6"/><circle cx="164.2" cy="336.8" r="5.6"/><circle cx="165.7" cy="338.2" r="5.6"/><circle cx="143.8" cy="345.5" r="5.6"/><circle cx="143.8" cy="348.5" r="5.6"/><circle cx="162.8" cy="348.5" r="5.6"/><circle cx="189.0" cy="353.7" r="5.6"/><circle cx="197.8" cy="352.8" r="5.6"/><circle cx="129.2" cy="373.3" r="5.6"/><circle cx="142.3" cy="381.7" r="5.6"/><circle cx="151.1" cy="381.1" r="5.6"/><circle cx="165.7" cy="390.4" r="5.6"/><circle cx="120.4" cy="400.7" r="5.6"/><circle cx="129.2" cy="408.0" r="5.6"/><circle cx="137.9" cy="412.3" r="5.6"/><circle cx="168.6" cy="413.8" r="5.6"/><circle cx="171.5" cy="419.6" r="5.6"/><circle cx="209.5" cy="383.1" r="5.6"/><circle cx="196.3" cy="383.1" r="5.6"/><circle cx="262.0" cy="469.9" r="5.6"/><circle cx="273.7" cy="397.7" r="5.6"/><circle cx="279.5" cy="399.2" r="5.6"/><circle cx="397.6" cy="225.5" r="5.6"/><circle cx="385.6" cy="250.7" r="5.6"/><circle cx="386.7" cy="260.5" r="5.6"/><circle cx="381.2" cy="269.3" r="5.6"/><circle cx="388.9" cy="272.6" r="5.6"/><circle cx="388.9" cy="277.0" r="5.6"/><circle cx="410.8" cy="279.2" r="5.6"/><circle cx="415.1" cy="272.6" r="5.6"/><circle cx="346.2" cy="268.2" r="5.6"/><circle cx="311.1" cy="257.3" r="5.6"/><circle cx="311.1" cy="284.6" r="5.6"/><circle cx="284.9" cy="292.3" r="5.6"/><circle cx="419.5" cy="257.3" r="5.6"/><circle cx="311.1" cy="312.2" r="5.6"/><circle cx="371.3" cy="317.7" r="5.6"/><circle cx="383.4" cy="326.5" r="5.6"/><circle cx="362.6" cy="333.0" r="5.6"/><circle cx="406.4" cy="306.8" r="5.6"/><circle cx="415.1" cy="306.8" r="5.6"/><circle cx="380.1" cy="376.8" r="5.6"/><circle cx="394.3" cy="390.0" r="5.6"/><circle cx="318.8" cy="392.2" r="5.6"/><circle cx="349.4" cy="405.3" r="5.6"/><circle cx="367.0" cy="394.3" r="5.6"/><circle cx="374.6" cy="405.3" r="5.6"/><circle cx="404.2" cy="409.7" r="5.6"/><circle cx="288.1" cy="374.6" r="5.6"/><circle cx="283.8" cy="409.7" r="5.6"/><circle cx="325.4" cy="375.7" r="5.6"/><circle cx="283.8" cy="434.0" r="5.6"/><circle cx="291.4" cy="432.9" r="5.6"/><circle cx="314.4" cy="434.0" r="5.6"/><circle cx="360.4" cy="428.5" r="5.6"/><circle cx="283.8" cy="462.5" r="5.6"/><circle cx="283.8" cy="468.4" r="5.6"/><circle cx="317.7" cy="471.2" r="5.6"/><circle cx="333.7" cy="463.6" r="5.6"/><circle cx="367.0" cy="472.7" r="5.6"/><circle cx="407.5" cy="462.5" r="5.6"/><circle cx="410.8" cy="465.7" r="5.6"/><circle cx="394.3" cy="417.6" r="5.6"/><circle cx="400.9" cy="417.6" r="5.6"/><circle cx="373.5" cy="415.4" r="5.6"/><circle cx="522.5" cy="128.1" r="5.6"/><circle cx="522.5" cy="159.6" r="5.6"/><circle cx="486.6" cy="181.3" r="5.6"/><circle cx="518.1" cy="183.0" r="5.6"/><circle cx="477.8" cy="202.3" r="5.6"/><circle cx="521.6" cy="223.3" r="5.6"/><circle cx="472.6" cy="231.2" r="5.6"/><circle cx="460.3" cy="244.3" r="5.6"/><circle cx="452.4" cy="250.5" r="5.6"/><circle cx="520.7" cy="235.6" r="5.6"/><circle cx="552.3" cy="242.6" r="5.6"/><circle cx="423.5" cy="273.0" r="5.6"/><circle cx="432.3" cy="274.8" r="5.6"/><circle cx="451.5" cy="268.6" r="5.6"/><circle cx="450.7" cy="287.0" r="5.6"/><circle cx="494.5" cy="260.8" r="5.6"/><circle cx="502.3" cy="278.3" r="5.6"/><circle cx="504.1" cy="285.3" r="5.6"/><circle cx="514.6" cy="261.6" r="5.6"/><circle cx="493.6" cy="299.3" r="5.6"/><circle cx="500.6" cy="304.6" r="5.6"/><circle cx="511.1" cy="304.6" r="5.6"/><circle cx="521.6" cy="309.8" r="5.6"/><circle cx="528.6" cy="306.3" r="5.6"/><circle cx="477.8" cy="315.1" r="5.6"/><circle cx="481.3" cy="322.1" r="5.6"/><circle cx="437.5" cy="311.6" r="5.6"/><circle cx="430.5" cy="325.6" r="5.6"/><circle cx="455.0" cy="325.6" r="5.6"/><circle cx="470.8" cy="332.6" r="5.6"/><circle cx="507.6" cy="327.3" r="5.6"/><circle cx="512.9" cy="334.3" r="5.6"/><circle cx="500.6" cy="332.6" r="5.6"/><circle cx="490.1" cy="339.6" r="5.6"/><circle cx="525.1" cy="323.8" r="5.6"/><circle cx="602.2" cy="261.6" r="5.6"/><circle cx="543.5" cy="294.0" r="5.6"/><circle cx="548.8" cy="304.6" r="5.6"/><circle cx="603.1" cy="336.1" r="5.6"/><circle cx="562.8" cy="313.3" r="5.6"/><circle cx="541.8" cy="287.0" r="5.6"/><circle cx="441.0" cy="442.3" r="5.6"/><circle cx="446.3" cy="441.4" r="5.6"/><circle cx="455.0" cy="438.8" r="5.6"/><circle cx="463.8" cy="446.6" r="5.6"/><circle cx="466.4" cy="452.8" r="5.6"/><circle cx="475.2" cy="463.3" r="5.6"/><circle cx="484.8" cy="472.0" r="5.6"/><circle cx="504.1" cy="447.5" r="5.6"/><circle cx="507.6" cy="452.8" r="5.6"/><circle cx="537.4" cy="440.5" r="5.6"/><circle cx="536.5" cy="461.5" r="5.6"/><circle cx="561.0" cy="359.5" r="5.6"/><circle cx="594.3" cy="392.8" r="5.6"/><circle cx="561.0" cy="405.1" r="5.6"/><circle cx="548.8" cy="430.5" r="5.6"/><circle cx="543.5" cy="359.5" r="5.6"/><circle cx="541.8" cy="460.7" r="5.6"/><circle cx="541.8" cy="440.5" r="5.6"/><circle cx="494.5" cy="352.0" r="5.6"/><circle cx="494.6" cy="417.5" r="5.6"/><circle cx="526.2" cy="357.2" r="5.6"/><circle cx="503.1" cy="385.0" r="5.6"/><circle cx="523.9" cy="388.3" r="5.6"/><circle cx="518.2" cy="424.8" r="5.6"/><circle cx="528.3" cy="379.7" r="5.6"/><circle cx="508.3" cy="379.9" r="5.6"/><circle cx="483.9" cy="364.3" r="5.6"/><circle cx="496.4" cy="374.8" r="5.6"/><circle cx="498.5" cy="399.8" r="5.6"/><circle cx="546.0" cy="418.6" r="5.6"/><circle cx="533.0" cy="417.1" r="5.6"/><circle cx="519.0" cy="432.2" r="5.6"/><circle cx="525.7" cy="392.5" r="5.6"/><circle cx="481.6" cy="391.4" r="5.6"/><circle cx="491.3" cy="357.6" r="5.6"/><circle cx="512.4" cy="419.6" r="5.6"/><circle cx="497.2" cy="418.0" r="5.6"/><circle cx="513.8" cy="359.2" r="5.6"/><circle cx="545.5" cy="383.2" r="5.6"/><circle cx="497.3" cy="425.5" r="5.6"/><circle cx="485.0" cy="414.7" r="5.6"/><circle cx="489.5" cy="382.3" r="5.6"/><circle cx="492.7" cy="424.9" r="5.6"/><circle cx="504.1" cy="437.6" r="5.6"/><circle cx="521.0" cy="410.9" r="5.6"/><circle cx="513.5" cy="374.4" r="5.6"/><circle cx="504.5" cy="434.4" r="5.6"/><circle cx="490.5" cy="438.9" r="5.6"/><circle cx="530.6" cy="379.2" r="5.6"/><circle cx="522.2" cy="381.2" r="5.6"/><circle cx="503.5" cy="392.9" r="5.6"/><circle cx="477.2" cy="391.9" r="5.6"/><circle cx="546.0" cy="372.1" r="5.6"/><circle cx="504.6" cy="449.4" r="5.6"/><circle cx="494.9" cy="332.9" r="5.6"/><circle cx="528.5" cy="338.3" r="5.6"/><circle cx="480.1" cy="460.0" r="5.6"/><circle cx="523.7" cy="375.6" r="5.6"/><circle cx="482.7" cy="382.2" r="5.6"/><circle cx="496.4" cy="448.0" r="5.6"/><circle cx="501.6" cy="341.1" r="5.6"/><circle cx="535.2" cy="414.0" r="5.6"/><circle cx="481.7" cy="345.3" r="5.6"/><circle cx="504.8" cy="342.4" r="5.6"/><circle cx="515.7" cy="413.2" r="5.6"/><circle cx="476.1" cy="439.0" r="5.6"/><circle cx="525.9" cy="453.6" r="5.6"/><circle cx="518.2" cy="423.5" r="5.6"/><circle cx="484.8" cy="333.2" r="5.6"/><circle cx="478.3" cy="460.2" r="5.6"/><circle cx="516.6" cy="457.8" r="5.6"/><circle cx="497.1" cy="432.0" r="5.6"/><circle cx="478.3" cy="352.4" r="5.6"/><circle cx="535.7" cy="470.0" r="5.6"/><circle cx="495.0" cy="402.6" r="5.6"/><circle cx="485.0" cy="327.6" r="5.6"/><circle cx="534.5" cy="440.4" r="5.6"/><circle cx="529.4" cy="398.6" r="5.6"/><circle cx="542.4" cy="462.6" r="5.6"/><circle cx="553.7" cy="437.5" r="5.6"/><circle cx="512.3" cy="430.3" r="5.6"/><circle cx="495.6" cy="453.7" r="5.6"/><circle cx="499.5" cy="466.7" r="5.6"/><circle cx="501.3" cy="344.9" r="5.6"/><circle cx="504.3" cy="382.5" r="5.6"/><circle cx="492.8" cy="344.8" r="5.6"/><circle cx="550.3" cy="458.3" r="5.6"/><circle cx="489.1" cy="375.0" r="5.6"/><circle cx="511.3" cy="440.8" r="5.6"/><circle cx="531.5" cy="369.4" r="5.6"/><circle cx="542.3" cy="402.9" r="5.6"/><circle cx="493.6" cy="434.7" r="5.6"/><circle cx="515.1" cy="450.8" r="5.6"/><circle cx="531.9" cy="325.7" r="5.6"/><circle cx="539.6" cy="398.8" r="5.6"/><circle cx="521.5" cy="371.4" r="5.6"/><circle cx="531.7" cy="310.8" r="5.6"/><circle cx="518.3" cy="459.0" r="5.6"/><circle cx="427.5" cy="459.5" r="5.6"/><circle cx="446.0" cy="384.6" r="5.6"/><circle cx="462.8" cy="429.3" r="5.6"/><circle cx="405.5" cy="407.8" r="5.6"/><circle cx="436.2" cy="432.2" r="5.6"/><circle cx="422.9" cy="439.5" r="5.6"/><circle cx="432.6" cy="458.0" r="5.6"/><circle cx="458.3" cy="392.0" r="5.6"/><circle cx="398.2" cy="448.3" r="5.6"/><circle cx="438.6" cy="458.1" r="5.6"/><circle cx="424.9" cy="394.3" r="5.6"/><circle cx="393.0" cy="441.5" r="5.6"/>
</g>
<g fill="#00BFC4" fill-opacity="0.055" stroke="#00BFC4" stroke-opacity="0.12" stroke-width="1.0">
<circle cx="171.5" cy="198.1" r="5.6"/><circle cx="140.9" cy="290.1" r="5.6"/><circle cx="190.5" cy="339.7" r="5.6"/><circle cx="196.3" cy="336.8" r="5.6"/><circle cx="240.1" cy="357.2" r="5.6"/><circle cx="168.6" cy="374.2" r="5.6"/><circle cx="203.6" cy="357.2" r="5.6"/><circle cx="187.6" cy="378.8" r="5.6"/><circle cx="213.8" cy="422.0" r="5.6"/><circle cx="231.4" cy="439.5" r="5.6"/><circle cx="189.0" cy="469.3" r="5.6"/><circle cx="260.6" cy="412.3" r="5.6"/><circle cx="264.9" cy="410.9" r="5.6"/><circle cx="279.5" cy="378.8" r="5.6"/><circle cx="338.5" cy="243.0" r="5.6"/><circle cx="345.1" cy="296.7" r="5.6"/><circle cx="423.9" cy="228.8" r="5.6"/><circle cx="423.9" cy="239.7" r="5.6"/><circle cx="423.9" cy="250.7" r="5.6"/><circle cx="421.7" cy="292.3" r="5.6"/><circle cx="291.4" cy="312.2" r="5.6"/><circle cx="338.5" cy="328.7" r="5.6"/><circle cx="283.8" cy="338.5" r="5.6"/><circle cx="329.7" cy="338.5" r="5.6"/><circle cx="312.2" cy="357.1" r="5.6"/><circle cx="371.3" cy="335.2" r="5.6"/><circle cx="387.8" cy="350.6" r="5.6"/><circle cx="423.9" cy="304.6" r="5.6"/><circle cx="351.6" cy="306.8" r="5.6"/><circle cx="393.2" cy="370.3" r="5.6"/><circle cx="307.8" cy="387.8" r="5.6"/><circle cx="292.5" cy="400.9" r="5.6"/><circle cx="301.3" cy="405.3" r="5.6"/><circle cx="329.7" cy="398.7" r="5.6"/><circle cx="327.6" cy="407.5" r="5.6"/><circle cx="417.3" cy="385.6" r="5.6"/><circle cx="419.5" cy="394.3" r="5.6"/><circle cx="331.9" cy="446.0" r="5.6"/><circle cx="331.9" cy="454.8" r="5.6"/><circle cx="406.4" cy="427.4" r="5.6"/><circle cx="410.8" cy="426.3" r="5.6"/><circle cx="419.5" cy="439.5" r="5.6"/><circle cx="423.9" cy="432.9" r="5.6"/><circle cx="423.9" cy="470.1" r="5.6"/><circle cx="410.8" cy="466.8" r="5.6"/><circle cx="433.1" cy="152.6" r="5.6"/><circle cx="427.0" cy="227.7" r="5.6"/><circle cx="427.0" cy="236.5" r="5.6"/><circle cx="466.4" cy="219.8" r="5.6"/><circle cx="428.8" cy="251.3" r="5.6"/><circle cx="520.7" cy="194.4" r="5.6"/><circle cx="587.3" cy="217.2" r="5.6"/><circle cx="562.8" cy="235.6" r="5.6"/><circle cx="554.0" cy="252.2" r="5.6"/><circle cx="427.9" cy="254.6" r="5.6"/><circle cx="427.0" cy="269.5" r="5.6"/><circle cx="438.4" cy="269.5" r="5.6"/><circle cx="427.0" cy="291.4" r="5.6"/><circle cx="428.8" cy="300.2" r="5.6"/><circle cx="427.0" cy="304.6" r="5.6"/><circle cx="437.5" cy="302.8" r="5.6"/><circle cx="477.8" cy="291.4" r="5.6"/><circle cx="502.3" cy="267.8" r="5.6"/><circle cx="491.8" cy="311.6" r="5.6"/><circle cx="502.3" cy="311.6" r="5.6"/><circle cx="532.1" cy="301.1" r="5.6"/><circle cx="518.1" cy="287.0" r="5.6"/><circle cx="434.0" cy="336.1" r="5.6"/><circle cx="542.6" cy="262.5" r="5.6"/><circle cx="554.0" cy="255.5" r="5.6"/><circle cx="569.8" cy="283.5" r="5.6"/><circle cx="559.3" cy="297.6" r="5.6"/><circle cx="580.3" cy="304.6" r="5.6"/><circle cx="547.0" cy="325.6" r="5.6"/><circle cx="554.0" cy="322.1" r="5.6"/><circle cx="543.5" cy="315.1" r="5.6"/><circle cx="603.1" cy="325.6" r="5.6"/><circle cx="592.6" cy="332.6" r="5.6"/><circle cx="578.5" cy="334.3" r="5.6"/><circle cx="427.9" cy="446.6" r="5.6"/><circle cx="427.0" cy="470.3" r="5.6"/><circle cx="441.0" cy="467.7" r="5.6"/><circle cx="487.4" cy="443.1" r="5.6"/><circle cx="491.0" cy="451.9" r="5.6"/><circle cx="488.3" cy="459.8" r="5.6"/><circle cx="500.6" cy="467.7" r="5.6"/><circle cx="502.3" cy="472.0" r="5.6"/><circle cx="516.4" cy="474.7" r="5.6"/><circle cx="510.2" cy="483.4" r="5.6"/><circle cx="488.3" cy="485.2" r="5.6"/><circle cx="482.2" cy="476.4" r="5.6"/><circle cx="532.1" cy="463.3" r="5.6"/><circle cx="535.6" cy="452.8" r="5.6"/><circle cx="525.1" cy="440.5" r="5.6"/><circle cx="514.6" cy="442.3" r="5.6"/><circle cx="505.8" cy="449.3" r="5.6"/><circle cx="571.5" cy="354.3" r="5.6"/><circle cx="585.6" cy="349.0" r="5.6"/><circle cx="602.2" cy="355.1" r="5.6"/><circle cx="611.8" cy="369.2" r="5.6"/><circle cx="578.5" cy="361.3" r="5.6"/><circle cx="594.3" cy="370.0" r="5.6"/><circle cx="601.3" cy="384.0" r="5.6"/><circle cx="585.6" cy="387.6" r="5.6"/><circle cx="568.0" cy="382.3" r="5.6"/><circle cx="554.0" cy="357.8" r="5.6"/><circle cx="561.0" cy="368.3" r="5.6"/><circle cx="569.8" cy="396.3" r="5.6"/><circle cx="557.5" cy="394.6" r="5.6"/><circle cx="594.3" cy="401.6" r="5.6"/><circle cx="583.8" cy="406.8" r="5.6"/><circle cx="587.3" cy="412.1" r="5.6"/><circle cx="580.3" cy="419.1" r="5.6"/><circle cx="564.5" cy="419.1" r="5.6"/><circle cx="552.3" cy="413.8" r="5.6"/><circle cx="545.3" cy="420.8" r="5.6"/><circle cx="596.1" cy="422.6" r="5.6"/><circle cx="611.8" cy="424.3" r="5.6"/><circle cx="601.3" cy="429.6" r="5.6"/><circle cx="576.8" cy="429.6" r="5.6"/><circle cx="557.5" cy="426.1" r="5.6"/><circle cx="543.5" cy="408.6" r="5.6"/><circle cx="547.0" cy="394.6" r="5.6"/><circle cx="550.5" cy="385.8" r="5.6"/><circle cx="602.2" cy="441.4" r="5.6"/><circle cx="593.4" cy="451.9" r="5.6"/><circle cx="602.2" cy="452.8" r="5.6"/><circle cx="602.2" cy="458.0" r="5.6"/><circle cx="566.3" cy="462.4" r="5.6"/><circle cx="570.7" cy="464.2" r="5.6"/><circle cx="558.4" cy="472.9" r="5.6"/><circle cx="596.1" cy="482.6" r="5.6"/><circle cx="557.5" cy="444.0" r="5.6"/><circle cx="559.3" cy="445.8" r="5.6"/><circle cx="547.0" cy="448.4" r="5.6"/><circle cx="552.3" cy="442.3" r="5.6"/><circle cx="580.3" cy="435.3" r="5.6"/><circle cx="512.9" cy="435.3" r="5.6"/><circle cx="486.4" cy="435.1" r="5.6"/><circle cx="498.5" cy="385.2" r="5.6"/><circle cx="535.6" cy="383.9" r="5.6"/><circle cx="515.6" cy="347.6" r="5.6"/><circle cx="530.3" cy="396.1" r="5.6"/><circle cx="499.7" cy="419.9" r="5.6"/><circle cx="497.8" cy="388.1" r="5.6"/><circle cx="485.7" cy="383.3" r="5.6"/><circle cx="490.6" cy="369.9" r="5.6"/><circle cx="530.0" cy="371.6" r="5.6"/><circle cx="510.9" cy="438.2" r="5.6"/><circle cx="545.2" cy="413.9" r="5.6"/><circle cx="515.0" cy="371.3" r="5.6"/><circle cx="487.6" cy="437.1" r="5.6"/><circle cx="513.2" cy="356.0" r="5.6"/><circle cx="520.9" cy="418.8" r="5.6"/><circle cx="520.1" cy="432.1" r="5.6"/><circle cx="478.9" cy="395.2" r="5.6"/><circle cx="509.1" cy="350.9" r="5.6"/><circle cx="522.2" cy="426.0" r="5.6"/><circle cx="518.7" cy="369.7" r="5.6"/><circle cx="536.5" cy="393.4" r="5.6"/><circle cx="512.8" cy="416.5" r="5.6"/><circle cx="486.7" cy="422.9" r="5.6"/><circle cx="525.2" cy="419.8" r="5.6"/><circle cx="489.8" cy="421.2" r="5.6"/><circle cx="489.8" cy="352.7" r="5.6"/><circle cx="537.6" cy="426.8" r="5.6"/><circle cx="539.1" cy="389.8" r="5.6"/><circle cx="495.7" cy="345.7" r="5.6"/><circle cx="522.5" cy="413.4" r="5.6"/><circle cx="536.2" cy="371.8" r="5.6"/><circle cx="491.5" cy="405.7" r="5.6"/><circle cx="534.0" cy="436.5" r="5.6"/><circle cx="486.8" cy="390.8" r="5.6"/><circle cx="540.4" cy="385.2" r="5.6"/><circle cx="518.4" cy="347.3" r="5.6"/><circle cx="524.5" cy="432.3" r="5.6"/><circle cx="535.5" cy="429.1" r="5.6"/><circle cx="523.5" cy="368.3" r="5.6"/><circle cx="531.3" cy="365.1" r="5.6"/><circle cx="535.9" cy="351.0" r="5.6"/><circle cx="535.4" cy="360.6" r="5.6"/><circle cx="503.0" cy="375.1" r="5.6"/><circle cx="525.8" cy="362.0" r="5.6"/><circle cx="504.5" cy="345.6" r="5.6"/><circle cx="494.9" cy="385.0" r="5.6"/><circle cx="483.6" cy="405.2" r="5.6"/><circle cx="503.4" cy="413.9" r="5.6"/><circle cx="523.1" cy="386.0" r="5.6"/><circle cx="538.4" cy="405.1" r="5.6"/><circle cx="534.3" cy="377.5" r="5.6"/><circle cx="515.1" cy="363.6" r="5.6"/><circle cx="547.7" cy="368.1" r="5.6"/><circle cx="560.7" cy="387.1" r="5.6"/><circle cx="551.6" cy="431.0" r="5.6"/><circle cx="548.3" cy="373.8" r="5.6"/><circle cx="565.0" cy="369.9" r="5.6"/><circle cx="562.4" cy="402.5" r="5.6"/><circle cx="561.7" cy="404.9" r="5.6"/><circle cx="554.2" cy="417.3" r="5.6"/><circle cx="548.5" cy="387.4" r="5.6"/><circle cx="554.3" cy="390.3" r="5.6"/><circle cx="550.2" cy="366.1" r="5.6"/><circle cx="511.1" cy="382.3" r="5.6"/><circle cx="526.2" cy="411.7" r="5.6"/><circle cx="530.8" cy="428.9" r="5.6"/><circle cx="513.7" cy="368.8" r="5.6"/><circle cx="525.7" cy="363.9" r="5.6"/><circle cx="479.0" cy="460.0" r="5.6"/><circle cx="509.6" cy="434.5" r="5.6"/><circle cx="508.9" cy="412.6" r="5.6"/><circle cx="476.2" cy="355.2" r="5.6"/><circle cx="518.5" cy="407.0" r="5.6"/><circle cx="484.5" cy="458.5" r="5.6"/><circle cx="484.2" cy="398.9" r="5.6"/><circle cx="483.5" cy="426.8" r="5.6"/><circle cx="492.2" cy="348.1" r="5.6"/><circle cx="477.0" cy="353.6" r="5.6"/><circle cx="486.7" cy="402.5" r="5.6"/><circle cx="503.8" cy="459.2" r="5.6"/><circle cx="537.0" cy="437.5" r="5.6"/><circle cx="518.3" cy="444.1" r="5.6"/><circle cx="536.0" cy="333.1" r="5.6"/><circle cx="481.8" cy="378.6" r="5.6"/><circle cx="480.2" cy="410.9" r="5.6"/><circle cx="491.2" cy="365.7" r="5.6"/><circle cx="493.0" cy="343.2" r="5.6"/><circle cx="522.9" cy="417.8" r="5.6"/><circle cx="514.0" cy="334.6" r="5.6"/><circle cx="502.3" cy="422.5" r="5.6"/><circle cx="484.3" cy="382.1" r="5.6"/><circle cx="475.3" cy="341.1" r="5.6"/><circle cx="488.3" cy="386.0" r="5.6"/><circle cx="525.1" cy="471.2" r="5.6"/><circle cx="477.9" cy="357.5" r="5.6"/><circle cx="569.2" cy="330.7" r="5.6"/><circle cx="520.8" cy="461.3" r="5.6"/><circle cx="518.7" cy="346.2" r="5.6"/><circle cx="586.4" cy="314.7" r="5.6"/><circle cx="582.2" cy="359.9" r="5.6"/><circle cx="501.8" cy="392.7" r="5.6"/><circle cx="535.9" cy="483.3" r="5.6"/><circle cx="569.3" cy="387.4" r="5.6"/><circle cx="545.4" cy="360.5" r="5.6"/><circle cx="597.9" cy="373.3" r="5.6"/><circle cx="585.8" cy="424.7" r="5.6"/><circle cx="589.6" cy="367.4" r="5.6"/><circle cx="527.7" cy="370.2" r="5.6"/><circle cx="578.6" cy="481.1" r="5.6"/><circle cx="578.2" cy="385.8" r="5.6"/><circle cx="578.8" cy="438.7" r="5.6"/><circle cx="540.4" cy="334.9" r="5.6"/><circle cx="505.5" cy="433.7" r="5.6"/><circle cx="500.6" cy="406.5" r="5.6"/><circle cx="575.7" cy="424.2" r="5.6"/><circle cx="551.6" cy="349.0" r="5.6"/><circle cx="490.9" cy="306.4" r="5.6"/><circle cx="481.7" cy="344.0" r="5.6"/><circle cx="545.2" cy="380.5" r="5.6"/><circle cx="501.3" cy="357.5" r="5.6"/><circle cx="533.2" cy="451.8" r="5.6"/><circle cx="557.3" cy="307.8" r="5.6"/><circle cx="535.7" cy="335.3" r="5.6"/><circle cx="582.0" cy="468.1" r="5.6"/><circle cx="544.8" cy="439.9" r="5.6"/><circle cx="561.2" cy="455.2" r="5.6"/><circle cx="510.6" cy="343.6" r="5.6"/><circle cx="568.5" cy="482.2" r="5.6"/><circle cx="504.5" cy="407.9" r="5.6"/><circle cx="543.5" cy="371.0" r="5.6"/><circle cx="569.0" cy="325.0" r="5.6"/><circle cx="522.1" cy="381.9" r="5.6"/><circle cx="594.2" cy="430.0" r="5.6"/><circle cx="406.4" cy="391.0" r="5.6"/><circle cx="422.8" cy="421.6" r="5.6"/><circle cx="420.1" cy="418.7" r="5.6"/><circle cx="444.0" cy="443.4" r="5.6"/><circle cx="394.1" cy="410.5" r="5.6"/><circle cx="439.5" cy="381.7" r="5.6"/><circle cx="465.9" cy="431.3" r="5.6"/><circle cx="428.8" cy="415.9" r="5.6"/><circle cx="401.8" cy="385.3" r="5.6"/><circle cx="444.5" cy="453.9" r="5.6"/><circle cx="453.4" cy="381.7" r="5.6"/><circle cx="393.1" cy="421.0" r="5.6"/><circle cx="435.9" cy="428.5" r="5.6"/><circle cx="460.1" cy="451.8" r="5.6"/><circle cx="469.1" cy="406.7" r="5.6"/>
</g>
<g fill="#C77CFF" fill-opacity="0.055" stroke="#C77CFF" stroke-opacity="0.12" stroke-width="1.0">
<circle cx="279.5" cy="281.3" r="5.6"/><circle cx="278.1" cy="412.3" r="5.6"/><circle cx="283.8" cy="359.3" r="5.6"/><circle cx="415.1" cy="335.2" r="5.6"/><circle cx="388.9" cy="405.3" r="5.6"/><circle cx="404.2" cy="400.9" r="5.6"/><circle cx="502.3" cy="243.5" r="5.6"/><circle cx="491.8" cy="218.9" r="5.6"/><circle cx="490.1" cy="281.8" r="5.6"/><circle cx="477.8" cy="292.3" r="5.6"/><circle cx="437.5" cy="304.6" r="5.6"/><circle cx="533.9" cy="337.8" r="5.6"/><circle cx="495.3" cy="476.4" r="5.6"/><circle cx="428.6" cy="440.1" r="5.6"/><circle cx="406.2" cy="387.4" r="5.6"/><circle cx="401.0" cy="454.5" r="5.6"/>
</g>
<line x1="108.2" y1="202.9" x2="602.2" y2="211.4" stroke="#F8766D" stroke-opacity="0.76" stroke-width="3.0"/>
<polyline points="108.2,176.5 190.5,183.5 272.9,190.0 355.2,196.9 437.5,201.9 519.9,203.6 602.2,201.5" fill="none" stroke="#F8766D" stroke-opacity="0.6" stroke-width="3.0" stroke-dasharray="11.8 11.8" stroke-linejoin="round"/>
<polyline points="108.2,229.3 190.5,224.8 272.9,221.0 355.2,217.4 437.5,214.5 519.9,215.8 602.2,221.3" fill="none" stroke="#F8766D" stroke-opacity="0.6" stroke-width="3.0" stroke-dasharray="11.8 11.8" stroke-linejoin="round"/>
<line x1="108.2" y1="392.9" x2="602.2" y2="321.1" stroke="#7CAE00" stroke-opacity="0.76" stroke-width="3.0"/>
<polyline points="108.2,359.2 190.5,355.1 272.9,350.1 355.2,344.2 437.5,335.9 519.9,323.1 602.2,306.1" fill="none" stroke="#7CAE00" stroke-opacity="0.6" stroke-width="3.0" stroke-dasharray="11.8 11.8" stroke-linejoin="round"/>
<polyline points="108.2,426.5 190.5,406.9 272.9,388.5 355.2,370.1 437.5,354.0 519.9,343.7 602.2,336.1" fill="none" stroke="#7CAE00" stroke-opacity="0.6" stroke-width="3.0" stroke-dasharray="11.8 11.8" stroke-linejoin="round"/>
<line x1="108.2" y1="357.3" x2="602.2" y2="379.1" stroke="#00BFC4" stroke-opacity="0.76" stroke-width="3.0"/>
<polyline points="108.2,321.3 190.5,332.7 272.9,343.1 355.2,354.0 437.5,363.3 519.9,367.8 602.2,366.4" fill="none" stroke="#00BFC4" stroke-opacity="0.6" stroke-width="3.0" stroke-dasharray="11.8 11.8" stroke-linejoin="round"/>
<polyline points="108.2,393.4 190.5,389.4 272.9,385.4 355.2,382.1 437.5,379.8 519.9,382.7 602.2,391.9" fill="none" stroke="#00BFC4" stroke-opacity="0.6" stroke-width="3.0" stroke-dasharray="11.8 11.8" stroke-linejoin="round"/>
<line x1="108.2" y1="445.5" x2="602.2" y2="291.3" stroke="#C77CFF" stroke-opacity="0.76" stroke-width="3.0"/>
<polyline points="108.2,362.0 190.5,355.2 272.9,347.3 355.2,338.6 437.5,321.5 519.9,289.8 602.2,247.9" fill="none" stroke="#C77CFF" stroke-opacity="0.6" stroke-width="3.0" stroke-dasharray="11.8 11.8" stroke-linejoin="round"/>
<polyline points="190.5,484.6 272.9,440.2 355.2,398.5 437.5,362.3 519.9,343.6 602.2,334.6" fill="none" stroke="#C77CFF" stroke-opacity="0.6" stroke-width="3.0" stroke-dasharray="11.8 11.8" stroke-linejoin="round"/>
</g>
<line x1="73.2" y1="125.3" x2="81.3" y2="125.3" stroke="#333333" stroke-width="2.5"/>
<text x="67.2" y="134.7" text-anchor="end" font-size="26" fill="#4D4D4D" stroke="#4D4D4D" stroke-width="0.35">8</text>
<line x1="73.2" y1="255.3" x2="81.3" y2="255.3" stroke="#333333" stroke-width="2.5"/>
<text x="67.2" y="264.7" text-anchor="end" font-size="26" fill="#4D4D4D" stroke="#4D4D4D" stroke-width="0.35">6</text>
<line x1="73.2" y1="385.3" x2="81.3" y2="385.3" stroke="#333333" stroke-width="2.5"/>
<text x="67.2" y="394.7" text-anchor="end" font-size="26" fill="#4D4D4D" stroke="#4D4D4D" stroke-width="0.35">4</text>
<line x1="73.2" y1="515.2" x2="81.3" y2="515.2" stroke="#333333" stroke-width="2.5"/>
<text x="67.2" y="524.6" text-anchor="end" font-size="26" fill="#4D4D4D" stroke="#4D4D4D" stroke-width="0.35">2</text>
<line x1="108.2" y1="536.8" x2="108.2" y2="544.1" stroke="#333333" stroke-width="2.5"/>
<text x="108.2" y="569.4" text-anchor="middle" font-size="26" fill="#4D4D4D" stroke="#4D4D4D" stroke-width="0.35">-4</text>
<line x1="272.7" y1="536.8" x2="272.7" y2="544.1" stroke="#333333" stroke-width="2.5"/>
<text x="272.7" y="569.4" text-anchor="middle" font-size="26" fill="#4D4D4D" stroke="#4D4D4D" stroke-width="0.35">-2</text>
<line x1="437.2" y1="536.8" x2="437.2" y2="544.1" stroke="#333333" stroke-width="2.5"/>
<text x="437.2" y="569.4" text-anchor="middle" font-size="26" fill="#4D4D4D" stroke="#4D4D4D" stroke-width="0.35">0</text>
<line x1="601.7" y1="536.8" x2="601.7" y2="544.1" stroke="#333333" stroke-width="2.5"/>
<text x="601.7" y="569.4" text-anchor="middle" font-size="26" fill="#4D4D4D" stroke="#4D4D4D" stroke-width="0.35">2</text>
<polyline points="81.3,71.9 81.3,536.8 670.4,536.8" fill="none" stroke="#000" stroke-width="2.5" stroke-linejoin="round"/>
<text transform="translate(375.9,605.5) scale(1.055,1)" text-anchor="middle" font-size="30.5" fill="#000" stroke="#000" stroke-width="0.35">Size (log)</text>
<text transform="translate(37.5,304.3) rotate(-90) scale(1.055,1)" x="0" y="0" text-anchor="middle" font-size="30.2" fill="#000" stroke="#000" stroke-width="0.35">Length (log)</text>
<text x="143.6" y="100.0" font-size="42.5" font-weight="bold" fill="#000">A</text>
<g clip-path="url(#cB)">
<g fill="#F8766D" fill-opacity="0.055" stroke="#F8766D" stroke-opacity="0.12" stroke-width="1.0">
<circle cx="123.5" cy="848.6" r="5.6"/><circle cx="127.1" cy="708.8" r="5.6"/><circle cx="115.7" cy="843.7" r="5.6"/><circle cx="108.6" cy="832.8" r="5.6"/><circle cx="127.6" cy="759.3" r="5.6"/><circle cx="115.8" cy="719.9" r="5.6"/><circle cx="114.6" cy="754.6" r="5.6"/><circle cx="120.6" cy="777.1" r="5.6"/><circle cx="132.4" cy="826.9" r="5.6"/><circle cx="123.4" cy="867.7" r="5.6"/><circle cx="113.7" cy="695.3" r="5.6"/><circle cx="123.2" cy="671.1" r="5.6"/><circle cx="109.4" cy="769.1" r="5.6"/><circle cx="119.7" cy="852.8" r="5.6"/><circle cx="123.6" cy="768.9" r="5.6"/><circle cx="120.4" cy="713.5" r="5.6"/><circle cx="108.8" cy="702.0" r="5.6"/><circle cx="125.1" cy="703.7" r="5.6"/><circle cx="117.4" cy="662.8" r="5.6"/><circle cx="128.4" cy="694.1" r="5.6"/><circle cx="114.9" cy="845.1" r="5.6"/><circle cx="120.7" cy="838.2" r="5.6"/><circle cx="123.9" cy="816.3" r="5.6"/><circle cx="110.7" cy="774.6" r="5.6"/><circle cx="120.7" cy="843.2" r="5.6"/><circle cx="117.2" cy="786.4" r="5.6"/><circle cx="109.9" cy="742.6" r="5.6"/><circle cx="116.3" cy="693.2" r="5.6"/><circle cx="128.1" cy="740.9" r="5.6"/><circle cx="132.0" cy="784.7" r="5.6"/><circle cx="123.0" cy="794.7" r="5.6"/><circle cx="124.7" cy="693.4" r="5.6"/><circle cx="119.1" cy="711.8" r="5.6"/><circle cx="118.2" cy="682.1" r="5.6"/><circle cx="131.7" cy="706.7" r="5.6"/><circle cx="124.6" cy="724.5" r="5.6"/><circle cx="129.5" cy="799.7" r="5.6"/><circle cx="111.7" cy="837.8" r="5.6"/><circle cx="131.2" cy="850.0" r="5.6"/><circle cx="122.2" cy="692.3" r="5.6"/><circle cx="113.1" cy="855.0" r="5.6"/><circle cx="121.8" cy="699.6" r="5.6"/><circle cx="129.7" cy="795.4" r="5.6"/><circle cx="122.2" cy="740.3" r="5.6"/><circle cx="118.4" cy="711.8" r="5.6"/><circle cx="109.4" cy="844.3" r="5.6"/><circle cx="119.7" cy="775.9" r="5.6"/><circle cx="116.2" cy="818.3" r="5.6"/><circle cx="109.1" cy="739.4" r="5.6"/><circle cx="109.2" cy="687.6" r="5.6"/><circle cx="131.7" cy="798.8" r="5.6"/><circle cx="118.8" cy="770.9" r="5.6"/><circle cx="129.4" cy="733.6" r="5.6"/><circle cx="122.7" cy="804.2" r="5.6"/><circle cx="117.0" cy="770.0" r="5.6"/><circle cx="126.9" cy="851.1" r="5.6"/><circle cx="112.1" cy="856.2" r="5.6"/><circle cx="108.6" cy="818.6" r="5.6"/><circle cx="128.0" cy="690.4" r="5.6"/><circle cx="118.6" cy="831.6" r="5.6"/><circle cx="108.8" cy="792.7" r="5.6"/><circle cx="127.5" cy="768.7" r="5.6"/><circle cx="125.9" cy="709.1" r="5.6"/><circle cx="113.3" cy="737.5" r="5.6"/><circle cx="112.8" cy="734.0" r="5.6"/><circle cx="131.3" cy="781.3" r="5.6"/><circle cx="116.7" cy="718.5" r="5.6"/><circle cx="131.3" cy="754.5" r="5.6"/><circle cx="132.0" cy="769.2" r="5.6"/><circle cx="121.0" cy="848.5" r="5.6"/><circle cx="126.3" cy="782.8" r="5.6"/><circle cx="118.7" cy="844.7" r="5.6"/><circle cx="118.4" cy="853.9" r="5.6"/><circle cx="110.1" cy="751.4" r="5.6"/><circle cx="121.0" cy="859.8" r="5.6"/><circle cx="114.5" cy="829.7" r="5.6"/><circle cx="124.7" cy="811.2" r="5.6"/><circle cx="123.6" cy="864.1" r="5.6"/><circle cx="116.5" cy="744.8" r="5.6"/><circle cx="113.4" cy="672.5" r="5.6"/><circle cx="113.6" cy="852.4" r="5.6"/><circle cx="128.7" cy="685.4" r="5.6"/><circle cx="123.0" cy="761.7" r="5.6"/><circle cx="122.8" cy="799.1" r="5.6"/><circle cx="115.9" cy="862.0" r="5.6"/><circle cx="119.7" cy="792.6" r="5.6"/><circle cx="123.7" cy="700.2" r="5.6"/><circle cx="110.0" cy="747.6" r="5.6"/><circle cx="126.8" cy="831.6" r="5.6"/><circle cx="126.0" cy="685.5" r="5.6"/><circle cx="130.4" cy="828.8" r="5.6"/><circle cx="129.6" cy="770.8" r="5.6"/><circle cx="130.5" cy="671.7" r="5.6"/><circle cx="109.2" cy="666.2" r="5.6"/><circle cx="114.6" cy="713.7" r="5.6"/><circle cx="113.0" cy="779.9" r="5.6"/><circle cx="109.4" cy="784.8" r="5.6"/><circle cx="112.5" cy="803.0" r="5.6"/><circle cx="109.0" cy="726.6" r="5.6"/><circle cx="131.0" cy="774.0" r="5.6"/><circle cx="126.1" cy="765.8" r="5.6"/><circle cx="122.5" cy="719.1" r="5.6"/><circle cx="121.8" cy="704.0" r="5.6"/><circle cx="125.9" cy="796.0" r="5.6"/><circle cx="126.9" cy="705.1" r="5.6"/><circle cx="117.6" cy="731.8" r="5.6"/><circle cx="113.5" cy="762.7" r="5.6"/><circle cx="125.9" cy="731.4" r="5.6"/><circle cx="127.0" cy="779.7" r="5.6"/><circle cx="113.8" cy="776.7" r="5.6"/><circle cx="127.4" cy="719.7" r="5.6"/><circle cx="121.8" cy="763.9" r="5.6"/><circle cx="122.5" cy="709.6" r="5.6"/><circle cx="123.4" cy="763.2" r="5.6"/><circle cx="126.3" cy="780.4" r="5.6"/><circle cx="117.4" cy="772.2" r="5.6"/><circle cx="127.1" cy="789.3" r="5.6"/><circle cx="114.4" cy="702.7" r="5.6"/><circle cx="123.2" cy="721.5" r="5.6"/><circle cx="121.6" cy="794.5" r="5.6"/><circle cx="118.3" cy="725.3" r="5.6"/><circle cx="119.7" cy="765.7" r="5.6"/><circle cx="113.3" cy="738.1" r="5.6"/><circle cx="113.9" cy="766.2" r="5.6"/><circle cx="126.4" cy="737.7" r="5.6"/><circle cx="118.2" cy="754.0" r="5.6"/><circle cx="115.4" cy="724.7" r="5.6"/><circle cx="117.4" cy="745.7" r="5.6"/><circle cx="113.0" cy="775.3" r="5.6"/><circle cx="121.9" cy="730.0" r="5.6"/><circle cx="112.9" cy="776.3" r="5.6"/><circle cx="113.9" cy="713.3" r="5.6"/><circle cx="113.9" cy="708.1" r="5.6"/><circle cx="127.8" cy="726.9" r="5.6"/><circle cx="117.0" cy="783.3" r="5.6"/><circle cx="170.5" cy="808.4" r="5.6"/><circle cx="175.9" cy="763.2" r="5.6"/><circle cx="164.1" cy="818.8" r="5.6"/><circle cx="173.4" cy="742.0" r="5.6"/><circle cx="169.7" cy="714.9" r="5.6"/><circle cx="167.1" cy="835.4" r="5.6"/><circle cx="156.4" cy="826.5" r="5.6"/><circle cx="155.3" cy="876.0" r="5.6"/><circle cx="165.3" cy="758.0" r="5.6"/><circle cx="170.8" cy="782.5" r="5.6"/><circle cx="171.1" cy="688.2" r="5.6"/><circle cx="167.4" cy="790.0" r="5.6"/><circle cx="175.5" cy="678.5" r="5.6"/><circle cx="165.0" cy="805.7" r="5.6"/><circle cx="167.1" cy="685.9" r="5.6"/><circle cx="168.1" cy="717.8" r="5.6"/><circle cx="159.3" cy="858.9" r="5.6"/><circle cx="159.4" cy="767.7" r="5.6"/><circle cx="171.5" cy="822.1" r="5.6"/><circle cx="167.2" cy="843.5" r="5.6"/><circle cx="165.2" cy="803.4" r="5.6"/><circle cx="173.0" cy="815.8" r="5.6"/><circle cx="169.1" cy="757.3" r="5.6"/><circle cx="167.3" cy="755.2" r="5.6"/><circle cx="171.4" cy="751.8" r="5.6"/><circle cx="165.3" cy="832.4" r="5.6"/><circle cx="166.1" cy="742.7" r="5.6"/><circle cx="173.2" cy="751.9" r="5.6"/><circle cx="173.6" cy="838.8" r="5.6"/><circle cx="164.8" cy="823.3" r="5.6"/><circle cx="155.8" cy="753.8" r="5.6"/><circle cx="173.9" cy="794.6" r="5.6"/><circle cx="167.3" cy="812.9" r="5.6"/><circle cx="169.9" cy="795.5" r="5.6"/><circle cx="164.3" cy="709.4" r="5.6"/><circle cx="161.4" cy="733.0" r="5.6"/><circle cx="164.5" cy="884.8" r="5.6"/><circle cx="162.8" cy="766.2" r="5.6"/><circle cx="163.2" cy="795.0" r="5.6"/><circle cx="175.9" cy="861.2" r="5.6"/><circle cx="163.3" cy="727.4" r="5.6"/><circle cx="174.5" cy="776.2" r="5.6"/><circle cx="170.1" cy="685.8" r="5.6"/><circle cx="174.1" cy="737.3" r="5.6"/><circle cx="165.9" cy="712.6" r="5.6"/><circle cx="164.2" cy="848.0" r="5.6"/><circle cx="173.2" cy="771.8" r="5.6"/><circle cx="171.9" cy="768.5" r="5.6"/><circle cx="163.2" cy="787.4" r="5.6"/><circle cx="159.4" cy="738.1" r="5.6"/><circle cx="170.5" cy="835.7" r="5.6"/><circle cx="156.2" cy="827.6" r="5.6"/><circle cx="173.0" cy="765.7" r="5.6"/><circle cx="156.4" cy="816.8" r="5.6"/><circle cx="160.4" cy="808.3" r="5.6"/><circle cx="163.3" cy="807.0" r="5.6"/><circle cx="160.7" cy="772.5" r="5.6"/><circle cx="166.5" cy="805.7" r="5.6"/><circle cx="159.5" cy="876.8" r="5.6"/><circle cx="161.4" cy="735.8" r="5.6"/><circle cx="160.6" cy="684.5" r="5.6"/><circle cx="164.3" cy="835.9" r="5.6"/><circle cx="170.6" cy="712.0" r="5.6"/><circle cx="158.0" cy="739.1" r="5.6"/><circle cx="171.9" cy="774.9" r="5.6"/><circle cx="175.3" cy="811.1" r="5.6"/><circle cx="168.7" cy="835.1" r="5.6"/><circle cx="171.5" cy="743.9" r="5.6"/><circle cx="160.7" cy="764.1" r="5.6"/><circle cx="165.8" cy="700.5" r="5.6"/><circle cx="164.7" cy="807.6" r="5.6"/><circle cx="158.0" cy="699.7" r="5.6"/><circle cx="158.8" cy="730.9" r="5.6"/><circle cx="176.2" cy="675.5" r="5.6"/><circle cx="159.0" cy="705.5" r="5.6"/><circle cx="165.4" cy="673.2" r="5.6"/><circle cx="165.1" cy="705.0" r="5.6"/><circle cx="160.9" cy="840.4" r="5.6"/><circle cx="159.0" cy="802.7" r="5.6"/><circle cx="163.9" cy="759.8" r="5.6"/><circle cx="173.0" cy="704.6" r="5.6"/><circle cx="175.3" cy="862.1" r="5.6"/><circle cx="169.7" cy="680.6" r="5.6"/><circle cx="169.6" cy="799.1" r="5.6"/><circle cx="172.0" cy="716.0" r="5.6"/><circle cx="176.0" cy="860.5" r="5.6"/><circle cx="157.5" cy="737.8" r="5.6"/><circle cx="155.7" cy="848.7" r="5.6"/><circle cx="175.1" cy="882.8" r="5.6"/><circle cx="168.5" cy="813.2" r="5.6"/><circle cx="169.9" cy="792.6" r="5.6"/><circle cx="176.0" cy="800.7" r="5.6"/><circle cx="162.4" cy="780.3" r="5.6"/><circle cx="155.4" cy="825.7" r="5.6"/><circle cx="170.3" cy="760.5" r="5.6"/><circle cx="173.7" cy="832.4" r="5.6"/><circle cx="162.4" cy="686.7" r="5.6"/><circle cx="157.9" cy="709.6" r="5.6"/><circle cx="161.7" cy="766.2" r="5.6"/><circle cx="175.4" cy="729.9" r="5.6"/><circle cx="174.8" cy="816.3" r="5.6"/><circle cx="173.8" cy="756.7" r="5.6"/><circle cx="155.1" cy="839.2" r="5.6"/><circle cx="160.4" cy="700.6" r="5.6"/><circle cx="172.6" cy="817.6" r="5.6"/><circle cx="159.7" cy="727.5" r="5.6"/><circle cx="175.7" cy="727.7" r="5.6"/><circle cx="170.5" cy="697.9" r="5.6"/><circle cx="172.9" cy="695.3" r="5.6"/><circle cx="166.4" cy="677.6" r="5.6"/><circle cx="167.1" cy="852.0" r="5.6"/><circle cx="156.9" cy="729.0" r="5.6"/><circle cx="171.8" cy="800.7" r="5.6"/><circle cx="161.9" cy="805.2" r="5.6"/><circle cx="165.0" cy="855.4" r="5.6"/><circle cx="161.4" cy="832.9" r="5.6"/><circle cx="169.0" cy="829.2" r="5.6"/><circle cx="163.3" cy="825.9" r="5.6"/><circle cx="170.4" cy="753.3" r="5.6"/><circle cx="155.6" cy="877.0" r="5.6"/><circle cx="170.7" cy="714.0" r="5.6"/><circle cx="171.1" cy="729.9" r="5.6"/><circle cx="165.3" cy="854.9" r="5.6"/><circle cx="164.9" cy="731.9" r="5.6"/><circle cx="161.7" cy="686.6" r="5.6"/><circle cx="159.8" cy="728.3" r="5.6"/><circle cx="158.8" cy="683.6" r="5.6"/><circle cx="165.2" cy="716.1" r="5.6"/><circle cx="171.3" cy="868.3" r="5.6"/><circle cx="161.0" cy="793.0" r="5.6"/><circle cx="166.1" cy="708.3" r="5.6"/><circle cx="159.2" cy="797.3" r="5.6"/><circle cx="165.5" cy="788.5" r="5.6"/><circle cx="158.2" cy="765.4" r="5.6"/><circle cx="172.6" cy="795.4" r="5.6"/><circle cx="157.1" cy="757.4" r="5.6"/><circle cx="163.6" cy="783.6" r="5.6"/><circle cx="158.3" cy="729.1" r="5.6"/><circle cx="171.6" cy="751.7" r="5.6"/><circle cx="165.2" cy="806.5" r="5.6"/><circle cx="162.8" cy="704.6" r="5.6"/><circle cx="164.1" cy="716.9" r="5.6"/><circle cx="158.5" cy="762.5" r="5.6"/><circle cx="174.2" cy="763.7" r="5.6"/><circle cx="168.6" cy="735.6" r="5.6"/><circle cx="167.3" cy="782.7" r="5.6"/><circle cx="167.6" cy="788.3" r="5.6"/><circle cx="166.9" cy="721.8" r="5.6"/><circle cx="167.5" cy="754.0" r="5.6"/><circle cx="160.0" cy="768.1" r="5.6"/><circle cx="171.7" cy="714.9" r="5.6"/><circle cx="166.8" cy="780.7" r="5.6"/><circle cx="164.3" cy="729.7" r="5.6"/><circle cx="163.7" cy="759.6" r="5.6"/><circle cx="169.4" cy="761.5" r="5.6"/><circle cx="158.9" cy="790.0" r="5.6"/><circle cx="173.6" cy="711.1" r="5.6"/><circle cx="161.5" cy="719.1" r="5.6"/><circle cx="172.3" cy="800.1" r="5.6"/><circle cx="157.8" cy="736.6" r="5.6"/><circle cx="160.5" cy="751.6" r="5.6"/><circle cx="173.6" cy="707.7" r="5.6"/><circle cx="160.1" cy="753.6" r="5.6"/><circle cx="166.4" cy="782.0" r="5.6"/><circle cx="164.9" cy="715.5" r="5.6"/><circle cx="163.4" cy="808.0" r="5.6"/><circle cx="170.5" cy="712.8" r="5.6"/><circle cx="171.5" cy="734.2" r="5.6"/><circle cx="171.1" cy="701.4" r="5.6"/><circle cx="172.7" cy="717.9" r="5.6"/><circle cx="165.2" cy="772.8" r="5.6"/><circle cx="166.1" cy="718.2" r="5.6"/><circle cx="159.5" cy="731.3" r="5.6"/><circle cx="157.9" cy="723.8" r="5.6"/><circle cx="159.3" cy="751.1" r="5.6"/><circle cx="163.4" cy="764.6" r="5.6"/><circle cx="162.1" cy="703.7" r="5.6"/><circle cx="163.0" cy="783.1" r="5.6"/><circle cx="161.6" cy="744.5" r="5.6"/><circle cx="170.6" cy="744.7" r="5.6"/><circle cx="214.7" cy="748.0" r="5.6"/><circle cx="206.3" cy="692.8" r="5.6"/><circle cx="207.5" cy="823.3" r="5.6"/><circle cx="211.6" cy="721.4" r="5.6"/><circle cx="217.8" cy="814.0" r="5.6"/><circle cx="204.2" cy="753.0" r="5.6"/><circle cx="212.7" cy="705.1" r="5.6"/><circle cx="209.4" cy="813.8" r="5.6"/><circle cx="206.4" cy="844.6" r="5.6"/><circle cx="205.2" cy="763.0" r="5.6"/><circle cx="200.8" cy="853.9" r="5.6"/><circle cx="201.6" cy="809.1" r="5.6"/><circle cx="203.8" cy="857.1" r="5.6"/><circle cx="216.8" cy="676.0" r="5.6"/><circle cx="217.9" cy="791.0" r="5.6"/><circle cx="195.8" cy="769.4" r="5.6"/><circle cx="195.2" cy="779.8" r="5.6"/><circle cx="198.5" cy="743.6" r="5.6"/><circle cx="201.3" cy="790.4" r="5.6"/><circle cx="213.7" cy="857.3" r="5.6"/><circle cx="201.9" cy="783.9" r="5.6"/><circle cx="194.1" cy="744.4" r="5.6"/><circle cx="217.1" cy="693.8" r="5.6"/><circle cx="214.9" cy="800.5" r="5.6"/><circle cx="201.1" cy="825.6" r="5.6"/><circle cx="200.9" cy="849.0" r="5.6"/><circle cx="196.0" cy="693.8" r="5.6"/><circle cx="212.0" cy="759.8" r="5.6"/><circle cx="197.5" cy="772.7" r="5.6"/><circle cx="201.1" cy="779.9" r="5.6"/><circle cx="211.8" cy="841.4" r="5.6"/><circle cx="195.4" cy="788.5" r="5.6"/><circle cx="217.6" cy="762.0" r="5.6"/><circle cx="212.5" cy="689.5" r="5.6"/><circle cx="215.0" cy="786.4" r="5.6"/><circle cx="215.3" cy="827.4" r="5.6"/><circle cx="214.9" cy="681.5" r="5.6"/><circle cx="211.2" cy="709.4" r="5.6"/><circle cx="200.4" cy="735.0" r="5.6"/><circle cx="208.2" cy="795.6" r="5.6"/><circle cx="216.4" cy="672.5" r="5.6"/><circle cx="198.6" cy="742.4" r="5.6"/><circle cx="213.6" cy="780.0" r="5.6"/><circle cx="206.3" cy="822.0" r="5.6"/><circle cx="209.7" cy="728.0" r="5.6"/><circle cx="196.1" cy="762.5" r="5.6"/><circle cx="215.1" cy="789.6" r="5.6"/><circle cx="195.3" cy="758.0" r="5.6"/><circle cx="203.2" cy="786.5" r="5.6"/><circle cx="208.1" cy="860.3" r="5.6"/><circle cx="202.1" cy="751.6" r="5.6"/><circle cx="208.7" cy="847.3" r="5.6"/><circle cx="210.9" cy="764.2" r="5.6"/><circle cx="213.5" cy="767.1" r="5.6"/><circle cx="217.1" cy="726.5" r="5.6"/><circle cx="197.1" cy="836.1" r="5.6"/><circle cx="201.1" cy="839.5" r="5.6"/><circle cx="208.6" cy="771.8" r="5.6"/><circle cx="196.1" cy="827.3" r="5.6"/><circle cx="195.6" cy="863.0" r="5.6"/><circle cx="215.0" cy="730.6" r="5.6"/><circle cx="197.1" cy="847.1" r="5.6"/><circle cx="205.5" cy="695.0" r="5.6"/><circle cx="206.0" cy="719.4" r="5.6"/><circle cx="203.8" cy="798.0" r="5.6"/><circle cx="216.0" cy="830.2" r="5.6"/><circle cx="197.9" cy="765.5" r="5.6"/><circle cx="205.8" cy="867.9" r="5.6"/><circle cx="196.1" cy="772.2" r="5.6"/><circle cx="215.9" cy="749.8" r="5.6"/><circle cx="200.3" cy="781.2" r="5.6"/><circle cx="201.7" cy="855.4" r="5.6"/><circle cx="196.0" cy="711.3" r="5.6"/><circle cx="196.0" cy="812.4" r="5.6"/><circle cx="201.0" cy="850.0" r="5.6"/><circle cx="215.4" cy="857.3" r="5.6"/><circle cx="200.1" cy="670.1" r="5.6"/><circle cx="203.3" cy="862.5" r="5.6"/><circle cx="212.3" cy="681.9" r="5.6"/><circle cx="210.9" cy="853.4" r="5.6"/><circle cx="217.2" cy="813.2" r="5.6"/><circle cx="214.7" cy="838.3" r="5.6"/><circle cx="202.6" cy="689.8" r="5.6"/><circle cx="211.5" cy="697.4" r="5.6"/><circle cx="203.2" cy="869.1" r="5.6"/><circle cx="207.4" cy="774.3" r="5.6"/><circle cx="216.7" cy="726.8" r="5.6"/><circle cx="218.0" cy="852.4" r="5.6"/><circle cx="202.7" cy="735.4" r="5.6"/><circle cx="197.0" cy="853.1" r="5.6"/><circle cx="240.9" cy="692.1" r="5.6"/><circle cx="238.1" cy="723.0" r="5.6"/><circle cx="244.4" cy="862.3" r="5.6"/><circle cx="238.8" cy="824.0" r="5.6"/><circle cx="235.2" cy="782.7" r="5.6"/><circle cx="239.9" cy="725.5" r="5.6"/><circle cx="246.1" cy="815.3" r="5.6"/><circle cx="235.1" cy="726.3" r="5.6"/><circle cx="246.1" cy="863.5" r="5.6"/><circle cx="242.8" cy="839.9" r="5.6"/><circle cx="248.7" cy="814.1" r="5.6"/><circle cx="243.3" cy="712.4" r="5.6"/><circle cx="238.9" cy="791.2" r="5.6"/><circle cx="247.8" cy="728.2" r="5.6"/><circle cx="239.3" cy="673.4" r="5.6"/><circle cx="244.1" cy="755.9" r="5.6"/><circle cx="245.8" cy="714.8" r="5.6"/><circle cx="243.6" cy="800.9" r="5.6"/><circle cx="240.4" cy="706.0" r="5.6"/><circle cx="239.4" cy="815.0" r="5.6"/><circle cx="236.0" cy="686.6" r="5.6"/><circle cx="240.4" cy="715.0" r="5.6"/><circle cx="245.8" cy="829.2" r="5.6"/><circle cx="248.1" cy="833.6" r="5.6"/><circle cx="243.4" cy="705.7" r="5.6"/><circle cx="246.2" cy="811.7" r="5.6"/><circle cx="244.9" cy="805.7" r="5.6"/><circle cx="246.3" cy="727.4" r="5.6"/><circle cx="243.8" cy="770.4" r="5.6"/><circle cx="238.4" cy="733.1" r="5.6"/><circle cx="235.5" cy="765.3" r="5.6"/><circle cx="238.9" cy="751.6" r="5.6"/><circle cx="246.6" cy="802.6" r="5.6"/><circle cx="243.9" cy="861.9" r="5.6"/><circle cx="236.5" cy="768.5" r="5.6"/><circle cx="234.5" cy="746.0" r="5.6"/><circle cx="248.2" cy="685.8" r="5.6"/><circle cx="245.1" cy="838.6" r="5.6"/><circle cx="241.1" cy="825.3" r="5.6"/><circle cx="240.1" cy="738.3" r="5.6"/><circle cx="241.1" cy="707.2" r="5.6"/><circle cx="237.9" cy="728.9" r="5.6"/><circle cx="248.8" cy="734.7" r="5.6"/><circle cx="236.7" cy="853.2" r="5.6"/><circle cx="235.2" cy="858.3" r="5.6"/><circle cx="246.7" cy="795.8" r="5.6"/><circle cx="239.8" cy="707.7" r="5.6"/><circle cx="234.7" cy="689.3" r="5.6"/><circle cx="238.6" cy="748.8" r="5.6"/><circle cx="247.8" cy="774.1" r="5.6"/><circle cx="248.9" cy="810.3" r="5.6"/><circle cx="235.3" cy="777.5" r="5.6"/><circle cx="235.5" cy="676.7" r="5.6"/><circle cx="248.1" cy="735.2" r="5.6"/><circle cx="236.0" cy="689.0" r="5.6"/><circle cx="243.4" cy="759.4" r="5.6"/><circle cx="233.2" cy="809.2" r="5.6"/><circle cx="237.1" cy="822.0" r="5.6"/><circle cx="240.8" cy="774.0" r="5.6"/><circle cx="240.3" cy="801.5" r="5.6"/><circle cx="248.8" cy="825.4" r="5.6"/><circle cx="234.1" cy="766.0" r="5.6"/><circle cx="236.7" cy="689.1" r="5.6"/><circle cx="236.1" cy="717.6" r="5.6"/><circle cx="248.4" cy="815.0" r="5.6"/><circle cx="246.6" cy="806.0" r="5.6"/><circle cx="238.1" cy="745.7" r="5.6"/><circle cx="240.1" cy="726.5" r="5.6"/><circle cx="239.7" cy="820.2" r="5.6"/><circle cx="234.2" cy="723.2" r="5.6"/><circle cx="240.7" cy="801.5" r="5.6"/><circle cx="243.3" cy="811.1" r="5.6"/><circle cx="234.7" cy="704.4" r="5.6"/><circle cx="237.9" cy="724.2" r="5.6"/><circle cx="245.1" cy="863.7" r="5.6"/><circle cx="243.9" cy="675.5" r="5.6"/><circle cx="237.8" cy="826.4" r="5.6"/><circle cx="247.8" cy="785.6" r="5.6"/><circle cx="238.6" cy="738.6" r="5.6"/><circle cx="243.1" cy="838.4" r="5.6"/><circle cx="238.5" cy="706.4" r="5.6"/><circle cx="233.0" cy="695.9" r="5.6"/><circle cx="246.6" cy="791.4" r="5.6"/><circle cx="248.9" cy="682.6" r="5.6"/><circle cx="238.9" cy="825.0" r="5.6"/><circle cx="243.6" cy="682.1" r="5.6"/><circle cx="239.4" cy="794.0" r="5.6"/><circle cx="244.0" cy="757.5" r="5.6"/><circle cx="236.0" cy="858.3" r="5.6"/><circle cx="240.5" cy="809.6" r="5.6"/><circle cx="241.6" cy="684.8" r="5.6"/><circle cx="236.8" cy="681.4" r="5.6"/><circle cx="236.1" cy="708.2" r="5.6"/><circle cx="239.6" cy="732.1" r="5.6"/><circle cx="238.8" cy="829.1" r="5.6"/><circle cx="272.5" cy="819.6" r="5.6"/><circle cx="273.6" cy="789.4" r="5.6"/><circle cx="272.0" cy="703.4" r="5.6"/><circle cx="271.6" cy="719.7" r="5.6"/><circle cx="263.6" cy="697.2" r="5.6"/><circle cx="266.1" cy="680.3" r="5.6"/><circle cx="270.8" cy="802.7" r="5.6"/><circle cx="273.0" cy="698.6" r="5.6"/><circle cx="270.5" cy="817.8" r="5.6"/><circle cx="259.6" cy="709.5" r="5.6"/><circle cx="263.8" cy="754.6" r="5.6"/><circle cx="262.1" cy="767.5" r="5.6"/><circle cx="265.2" cy="787.1" r="5.6"/><circle cx="268.6" cy="792.3" r="5.6"/><circle cx="263.4" cy="795.8" r="5.6"/><circle cx="272.2" cy="798.3" r="5.6"/><circle cx="260.2" cy="836.0" r="5.6"/><circle cx="269.4" cy="722.7" r="5.6"/><circle cx="266.8" cy="764.0" r="5.6"/><circle cx="268.3" cy="718.7" r="5.6"/><circle cx="263.8" cy="738.1" r="5.6"/><circle cx="273.1" cy="750.5" r="5.6"/><circle cx="259.7" cy="753.0" r="5.6"/><circle cx="262.6" cy="679.1" r="5.6"/><circle cx="276.6" cy="726.3" r="5.6"/><circle cx="268.7" cy="737.2" r="5.6"/><circle cx="260.0" cy="828.3" r="5.6"/><circle cx="275.8" cy="708.3" r="5.6"/><circle cx="266.5" cy="739.8" r="5.6"/><circle cx="262.0" cy="788.2" r="5.6"/><circle cx="273.1" cy="804.6" r="5.6"/><circle cx="271.2" cy="679.9" r="5.6"/><circle cx="263.1" cy="763.5" r="5.6"/><circle cx="271.7" cy="741.9" r="5.6"/><circle cx="267.1" cy="818.2" r="5.6"/><circle cx="259.4" cy="722.1" r="5.6"/><circle cx="264.2" cy="843.8" r="5.6"/><circle cx="263.1" cy="684.9" r="5.6"/><circle cx="266.5" cy="786.1" r="5.6"/><circle cx="261.8" cy="818.1" r="5.6"/><circle cx="262.5" cy="795.3" r="5.6"/><circle cx="261.9" cy="825.1" r="5.6"/><circle cx="262.6" cy="799.9" r="5.6"/><circle cx="274.1" cy="719.8" r="5.6"/><circle cx="260.7" cy="775.5" r="5.6"/><circle cx="268.0" cy="757.5" r="5.6"/><circle cx="273.1" cy="754.8" r="5.6"/><circle cx="267.9" cy="758.9" r="5.6"/><circle cx="267.2" cy="745.2" r="5.6"/><circle cx="261.9" cy="726.6" r="5.6"/><circle cx="263.8" cy="718.7" r="5.6"/><circle cx="273.1" cy="696.2" r="5.6"/><circle cx="262.7" cy="765.4" r="5.6"/><circle cx="264.6" cy="717.3" r="5.6"/><circle cx="265.7" cy="761.3" r="5.6"/><circle cx="271.1" cy="840.3" r="5.6"/><circle cx="274.3" cy="749.2" r="5.6"/><circle cx="267.1" cy="746.8" r="5.6"/><circle cx="263.3" cy="836.9" r="5.6"/><circle cx="260.2" cy="711.4" r="5.6"/><circle cx="270.9" cy="776.0" r="5.6"/><circle cx="264.0" cy="834.4" r="5.6"/><circle cx="266.4" cy="777.2" r="5.6"/><circle cx="260.6" cy="826.7" r="5.6"/><circle cx="260.9" cy="743.2" r="5.6"/><circle cx="274.9" cy="835.8" r="5.6"/><circle cx="275.3" cy="816.0" r="5.6"/><circle cx="263.2" cy="682.4" r="5.6"/><circle cx="267.1" cy="687.6" r="5.6"/><circle cx="276.3" cy="678.4" r="5.6"/><circle cx="264.9" cy="711.2" r="5.6"/><circle cx="259.2" cy="760.8" r="5.6"/><circle cx="260.4" cy="828.2" r="5.6"/><circle cx="271.4" cy="739.2" r="5.6"/><circle cx="274.1" cy="810.9" r="5.6"/><circle cx="302.0" cy="770.4" r="5.6"/><circle cx="311.0" cy="748.9" r="5.6"/><circle cx="310.5" cy="835.5" r="5.6"/><circle cx="304.4" cy="858.9" r="5.6"/><circle cx="302.9" cy="829.0" r="5.6"/><circle cx="307.5" cy="743.6" r="5.6"/><circle cx="305.6" cy="799.6" r="5.6"/><circle cx="305.7" cy="698.6" r="5.6"/><circle cx="313.8" cy="873.2" r="5.6"/><circle cx="296.7" cy="868.6" r="5.6"/><circle cx="305.6" cy="701.6" r="5.6"/><circle cx="310.8" cy="764.3" r="5.6"/><circle cx="308.8" cy="844.8" r="5.6"/><circle cx="305.7" cy="686.1" r="5.6"/><circle cx="310.8" cy="817.6" r="5.6"/><circle cx="312.4" cy="731.1" r="5.6"/><circle cx="310.1" cy="854.1" r="5.6"/><circle cx="302.4" cy="759.7" r="5.6"/><circle cx="302.0" cy="677.2" r="5.6"/><circle cx="300.2" cy="743.6" r="5.6"/><circle cx="298.0" cy="832.2" r="5.6"/><circle cx="303.7" cy="791.9" r="5.6"/><circle cx="301.1" cy="749.5" r="5.6"/><circle cx="309.6" cy="771.8" r="5.6"/><circle cx="306.7" cy="762.2" r="5.6"/><circle cx="306.0" cy="859.1" r="5.6"/><circle cx="300.8" cy="781.9" r="5.6"/><circle cx="308.4" cy="693.7" r="5.6"/><circle cx="313.3" cy="777.7" r="5.6"/><circle cx="300.4" cy="831.1" r="5.6"/><circle cx="310.7" cy="804.6" r="5.6"/><circle cx="312.5" cy="694.1" r="5.6"/><circle cx="305.5" cy="827.5" r="5.6"/><circle cx="312.5" cy="806.9" r="5.6"/><circle cx="306.8" cy="755.2" r="5.6"/><circle cx="306.3" cy="789.2" r="5.6"/><circle cx="312.3" cy="844.7" r="5.6"/><circle cx="309.3" cy="864.5" r="5.6"/><circle cx="297.2" cy="833.0" r="5.6"/><circle cx="304.3" cy="829.4" r="5.6"/><circle cx="301.3" cy="771.3" r="5.6"/><circle cx="310.8" cy="683.2" r="5.6"/><circle cx="301.2" cy="775.6" r="5.6"/><circle cx="311.3" cy="731.1" r="5.6"/><circle cx="310.8" cy="725.9" r="5.6"/><circle cx="301.5" cy="789.0" r="5.6"/><circle cx="307.8" cy="855.5" r="5.6"/><circle cx="311.8" cy="727.0" r="5.6"/><circle cx="309.4" cy="805.5" r="5.6"/><circle cx="303.0" cy="834.3" r="5.6"/><circle cx="312.2" cy="773.8" r="5.6"/><circle cx="312.5" cy="702.0" r="5.6"/><circle cx="299.0" cy="831.9" r="5.6"/><circle cx="301.5" cy="795.4" r="5.6"/><circle cx="304.9" cy="705.7" r="5.6"/><circle cx="309.6" cy="827.3" r="5.6"/><circle cx="298.6" cy="729.0" r="5.6"/><circle cx="310.4" cy="862.1" r="5.6"/><circle cx="311.7" cy="778.4" r="5.6"/><circle cx="302.6" cy="766.8" r="5.6"/><circle cx="299.2" cy="777.2" r="5.6"/><circle cx="300.2" cy="709.0" r="5.6"/><circle cx="302.9" cy="689.0" r="5.6"/><circle cx="304.5" cy="818.0" r="5.6"/><circle cx="307.7" cy="875.0" r="5.6"/><circle cx="311.9" cy="805.3" r="5.6"/><circle cx="312.2" cy="766.7" r="5.6"/><circle cx="310.4" cy="734.0" r="5.6"/><circle cx="305.5" cy="875.9" r="5.6"/><circle cx="306.8" cy="779.4" r="5.6"/><circle cx="310.2" cy="739.7" r="5.6"/><circle cx="311.0" cy="679.8" r="5.6"/><circle cx="300.3" cy="712.2" r="5.6"/><circle cx="300.6" cy="868.9" r="5.6"/><circle cx="296.4" cy="736.9" r="5.6"/><circle cx="306.3" cy="819.4" r="5.6"/><circle cx="309.9" cy="754.2" r="5.6"/><circle cx="300.0" cy="849.9" r="5.6"/><circle cx="298.2" cy="689.3" r="5.6"/><circle cx="300.2" cy="776.5" r="5.6"/><circle cx="313.0" cy="824.7" r="5.6"/><circle cx="306.2" cy="782.3" r="5.6"/><circle cx="308.5" cy="803.8" r="5.6"/><circle cx="302.1" cy="694.9" r="5.6"/><circle cx="299.6" cy="835.7" r="5.6"/><circle cx="307.2" cy="799.6" r="5.6"/><circle cx="297.7" cy="812.6" r="5.6"/><circle cx="303.1" cy="815.8" r="5.6"/><circle cx="306.5" cy="768.4" r="5.6"/><circle cx="310.1" cy="778.2" r="5.6"/><circle cx="307.8" cy="719.7" r="5.6"/><circle cx="306.7" cy="744.6" r="5.6"/><circle cx="298.2" cy="716.6" r="5.6"/><circle cx="304.7" cy="732.8" r="5.6"/><circle cx="309.2" cy="715.3" r="5.6"/><circle cx="297.2" cy="824.6" r="5.6"/><circle cx="302.0" cy="763.7" r="5.6"/><circle cx="300.4" cy="726.1" r="5.6"/><circle cx="303.4" cy="798.7" r="5.6"/><circle cx="297.6" cy="804.7" r="5.6"/><circle cx="312.8" cy="769.9" r="5.6"/><circle cx="302.8" cy="729.2" r="5.6"/><circle cx="299.9" cy="740.4" r="5.6"/><circle cx="310.6" cy="700.4" r="5.6"/><circle cx="309.6" cy="783.4" r="5.6"/><circle cx="297.3" cy="708.7" r="5.6"/><circle cx="308.8" cy="784.1" r="5.6"/><circle cx="302.0" cy="807.7" r="5.6"/><circle cx="300.4" cy="753.4" r="5.6"/><circle cx="298.8" cy="780.7" r="5.6"/><circle cx="298.4" cy="722.4" r="5.6"/><circle cx="309.3" cy="762.5" r="5.6"/><circle cx="307.6" cy="791.7" r="5.6"/><circle cx="306.7" cy="724.7" r="5.6"/><circle cx="308.2" cy="714.5" r="5.6"/><circle cx="346.0" cy="814.5" r="5.6"/><circle cx="347.3" cy="860.2" r="5.6"/><circle cx="333.2" cy="739.4" r="5.6"/><circle cx="338.7" cy="736.4" r="5.6"/><circle cx="335.3" cy="855.7" r="5.6"/><circle cx="332.9" cy="722.9" r="5.6"/><circle cx="344.7" cy="730.9" r="5.6"/><circle cx="336.6" cy="873.8" r="5.6"/><circle cx="344.7" cy="774.1" r="5.6"/><circle cx="334.7" cy="739.7" r="5.6"/><circle cx="348.2" cy="839.9" r="5.6"/><circle cx="333.6" cy="823.7" r="5.6"/><circle cx="338.5" cy="826.2" r="5.6"/><circle cx="337.2" cy="713.0" r="5.6"/><circle cx="332.8" cy="744.8" r="5.6"/><circle cx="346.3" cy="859.1" r="5.6"/><circle cx="343.4" cy="831.6" r="5.6"/><circle cx="335.6" cy="756.0" r="5.6"/><circle cx="346.9" cy="877.4" r="5.6"/><circle cx="339.6" cy="837.0" r="5.6"/><circle cx="347.4" cy="879.4" r="5.6"/><circle cx="337.2" cy="813.6" r="5.6"/><circle cx="338.7" cy="777.3" r="5.6"/><circle cx="339.9" cy="741.5" r="5.6"/><circle cx="332.8" cy="835.2" r="5.6"/><circle cx="343.6" cy="849.4" r="5.6"/><circle cx="335.0" cy="733.5" r="5.6"/><circle cx="342.0" cy="867.8" r="5.6"/><circle cx="340.0" cy="726.6" r="5.6"/><circle cx="342.0" cy="871.8" r="5.6"/><circle cx="346.4" cy="860.6" r="5.6"/><circle cx="339.1" cy="738.4" r="5.6"/><circle cx="346.4" cy="839.3" r="5.6"/><circle cx="346.1" cy="763.1" r="5.6"/><circle cx="337.1" cy="734.1" r="5.6"/><circle cx="346.4" cy="864.5" r="5.6"/><circle cx="338.4" cy="855.9" r="5.6"/><circle cx="338.6" cy="774.0" r="5.6"/><circle cx="341.6" cy="730.5" r="5.6"/><circle cx="336.8" cy="739.2" r="5.6"/><circle cx="336.7" cy="787.0" r="5.6"/><circle cx="334.1" cy="837.8" r="5.6"/><circle cx="335.3" cy="773.2" r="5.6"/><circle cx="342.8" cy="714.5" r="5.6"/><circle cx="339.0" cy="796.1" r="5.6"/><circle cx="341.3" cy="859.4" r="5.6"/><circle cx="345.1" cy="711.2" r="5.6"/><circle cx="345.8" cy="793.6" r="5.6"/><circle cx="343.4" cy="718.7" r="5.6"/><circle cx="340.1" cy="822.4" r="5.6"/><circle cx="367.0" cy="707.8" r="5.6"/><circle cx="378.7" cy="710.8" r="5.6"/><circle cx="368.0" cy="716.9" r="5.6"/><circle cx="374.3" cy="777.4" r="5.6"/><circle cx="379.3" cy="825.1" r="5.6"/><circle cx="380.6" cy="830.4" r="5.6"/><circle cx="373.3" cy="698.3" r="5.6"/><circle cx="380.4" cy="713.7" r="5.6"/><circle cx="375.7" cy="720.1" r="5.6"/><circle cx="378.4" cy="708.7" r="5.6"/><circle cx="372.9" cy="712.1" r="5.6"/><circle cx="379.0" cy="783.3" r="5.6"/><circle cx="375.8" cy="729.0" r="5.6"/><circle cx="369.5" cy="825.6" r="5.6"/><circle cx="377.7" cy="803.7" r="5.6"/><circle cx="381.0" cy="772.6" r="5.6"/><circle cx="401.0" cy="735.6" r="5.6"/><circle cx="405.3" cy="777.1" r="5.6"/><circle cx="411.2" cy="703.0" r="5.6"/><circle cx="397.7" cy="721.2" r="5.6"/><circle cx="406.7" cy="833.1" r="5.6"/><circle cx="404.7" cy="803.2" r="5.6"/><circle cx="407.3" cy="697.4" r="5.6"/><circle cx="400.9" cy="871.6" r="5.6"/><circle cx="402.3" cy="862.5" r="5.6"/><circle cx="404.9" cy="733.6" r="5.6"/><circle cx="397.0" cy="732.7" r="5.6"/><circle cx="402.1" cy="772.2" r="5.6"/><circle cx="404.2" cy="791.6" r="5.6"/><circle cx="404.6" cy="699.8" r="5.6"/><circle cx="401.3" cy="865.2" r="5.6"/><circle cx="397.4" cy="824.7" r="5.6"/><circle cx="435.1" cy="688.9" r="5.6"/><circle cx="451.4" cy="809.6" r="5.6"/><circle cx="452.9" cy="819.8" r="5.6"/><circle cx="451.6" cy="783.8" r="5.6"/><circle cx="453.8" cy="682.5" r="5.6"/><circle cx="438.9" cy="824.4" r="5.6"/><circle cx="438.4" cy="779.1" r="5.6"/><circle cx="440.3" cy="757.7" r="5.6"/><circle cx="456.4" cy="807.0" r="5.6"/><circle cx="445.5" cy="723.8" r="5.6"/><circle cx="455.5" cy="806.3" r="5.6"/><circle cx="445.3" cy="851.9" r="5.6"/><circle cx="452.4" cy="875.8" r="5.6"/><circle cx="451.6" cy="858.5" r="5.6"/><circle cx="448.4" cy="817.7" r="5.6"/><circle cx="456.6" cy="684.4" r="5.6"/><circle cx="446.3" cy="795.2" r="5.6"/><circle cx="434.6" cy="834.7" r="5.6"/><circle cx="453.0" cy="866.3" r="5.6"/><circle cx="443.4" cy="765.9" r="5.6"/><circle cx="458.5" cy="753.5" r="5.6"/><circle cx="456.4" cy="755.6" r="5.6"/><circle cx="442.5" cy="724.6" r="5.6"/><circle cx="439.0" cy="757.8" r="5.6"/><circle cx="437.5" cy="843.0" r="5.6"/><circle cx="460.3" cy="685.9" r="5.6"/><circle cx="434.5" cy="665.8" r="5.6"/><circle cx="459.1" cy="680.9" r="5.6"/><circle cx="452.0" cy="730.3" r="5.6"/><circle cx="438.6" cy="718.0" r="5.6"/><circle cx="452.3" cy="668.9" r="5.6"/><circle cx="457.2" cy="787.1" r="5.6"/><circle cx="439.6" cy="709.8" r="5.6"/><circle cx="451.3" cy="800.3" r="5.6"/><circle cx="441.9" cy="736.8" r="5.6"/><circle cx="446.0" cy="860.8" r="5.6"/><circle cx="448.1" cy="845.6" r="5.6"/><circle cx="450.9" cy="785.9" r="5.6"/><circle cx="446.7" cy="811.3" r="5.6"/><circle cx="446.8" cy="821.1" r="5.6"/><circle cx="438.1" cy="734.3" r="5.6"/><circle cx="457.4" cy="750.0" r="5.6"/><circle cx="456.6" cy="866.7" r="5.6"/><circle cx="449.2" cy="686.9" r="5.6"/><circle cx="454.2" cy="808.2" r="5.6"/><circle cx="441.1" cy="850.5" r="5.6"/><circle cx="446.5" cy="677.3" r="5.6"/><circle cx="434.9" cy="714.1" r="5.6"/><circle cx="450.1" cy="840.3" r="5.6"/><circle cx="435.8" cy="669.8" r="5.6"/><circle cx="450.4" cy="753.0" r="5.6"/><circle cx="445.4" cy="841.5" r="5.6"/><circle cx="458.7" cy="873.0" r="5.6"/><circle cx="454.8" cy="665.7" r="5.6"/><circle cx="437.2" cy="791.3" r="5.6"/><circle cx="459.7" cy="682.5" r="5.6"/><circle cx="447.4" cy="750.2" r="5.6"/><circle cx="444.4" cy="722.7" r="5.6"/><circle cx="440.6" cy="716.2" r="5.6"/><circle cx="435.9" cy="784.1" r="5.6"/><circle cx="445.5" cy="818.3" r="5.6"/><circle cx="450.9" cy="869.9" r="5.6"/><circle cx="442.5" cy="854.7" r="5.6"/><circle cx="443.8" cy="807.0" r="5.6"/><circle cx="455.5" cy="750.3" r="5.6"/><circle cx="445.5" cy="800.7" r="5.6"/><circle cx="436.1" cy="779.3" r="5.6"/><circle cx="435.7" cy="713.3" r="5.6"/><circle cx="450.4" cy="874.0" r="5.6"/><circle cx="461.0" cy="721.0" r="5.6"/><circle cx="437.1" cy="776.5" r="5.6"/><circle cx="445.4" cy="746.6" r="5.6"/><circle cx="454.5" cy="817.6" r="5.6"/><circle cx="448.7" cy="798.6" r="5.6"/><circle cx="449.3" cy="810.5" r="5.6"/><circle cx="459.0" cy="868.5" r="5.6"/><circle cx="460.4" cy="849.8" r="5.6"/><circle cx="435.9" cy="762.1" r="5.6"/><circle cx="454.9" cy="728.3" r="5.6"/><circle cx="450.0" cy="676.9" r="5.6"/><circle cx="438.7" cy="751.0" r="5.6"/><circle cx="435.0" cy="756.2" r="5.6"/><circle cx="439.4" cy="850.3" r="5.6"/><circle cx="441.9" cy="746.9" r="5.6"/><circle cx="455.5" cy="785.3" r="5.6"/><circle cx="434.4" cy="711.8" r="5.6"/><circle cx="450.1" cy="707.9" r="5.6"/><circle cx="440.0" cy="798.9" r="5.6"/><circle cx="446.8" cy="722.9" r="5.6"/><circle cx="448.7" cy="801.3" r="5.6"/><circle cx="434.1" cy="723.9" r="5.6"/><circle cx="441.6" cy="853.9" r="5.6"/><circle cx="434.4" cy="739.6" r="5.6"/><circle cx="438.4" cy="814.5" r="5.6"/><circle cx="455.7" cy="677.3" r="5.6"/><circle cx="457.2" cy="787.0" r="5.6"/><circle cx="439.1" cy="814.5" r="5.6"/><circle cx="441.2" cy="798.6" r="5.6"/><circle cx="435.1" cy="757.0" r="5.6"/><circle cx="447.2" cy="812.1" r="5.6"/><circle cx="456.4" cy="768.3" r="5.6"/><circle cx="434.4" cy="753.7" r="5.6"/><circle cx="443.5" cy="824.4" r="5.6"/><circle cx="452.1" cy="750.6" r="5.6"/><circle cx="443.2" cy="795.9" r="5.6"/><circle cx="435.7" cy="802.1" r="5.6"/><circle cx="451.8" cy="754.4" r="5.6"/><circle cx="452.9" cy="749.7" r="5.6"/><circle cx="437.0" cy="752.1" r="5.6"/><circle cx="434.4" cy="710.9" r="5.6"/><circle cx="445.3" cy="803.1" r="5.6"/><circle cx="438.7" cy="762.6" r="5.6"/><circle cx="460.4" cy="803.4" r="5.6"/><circle cx="458.3" cy="784.4" r="5.6"/><circle cx="449.5" cy="772.7" r="5.6"/><circle cx="449.8" cy="758.1" r="5.6"/><circle cx="443.1" cy="729.8" r="5.6"/><circle cx="434.8" cy="746.1" r="5.6"/><circle cx="454.6" cy="769.1" r="5.6"/><circle cx="437.6" cy="801.8" r="5.6"/>
</g>
<g fill="#7CAE00" fill-opacity="0.055" stroke="#7CAE00" stroke-opacity="0.12" stroke-width="1.0">
<circle cx="132.0" cy="991.2" r="5.6"/><circle cx="114.0" cy="995.5" r="5.6"/><circle cx="113.5" cy="926.0" r="5.6"/><circle cx="120.4" cy="987.2" r="5.6"/><circle cx="109.5" cy="897.3" r="5.6"/><circle cx="122.9" cy="860.0" r="5.6"/><circle cx="114.2" cy="919.8" r="5.6"/><circle cx="129.6" cy="964.1" r="5.6"/><circle cx="128.4" cy="964.2" r="5.6"/><circle cx="125.5" cy="977.5" r="5.6"/><circle cx="124.9" cy="960.4" r="5.6"/><circle cx="115.7" cy="875.1" r="5.6"/><circle cx="126.7" cy="874.9" r="5.6"/><circle cx="130.6" cy="939.5" r="5.6"/><circle cx="116.4" cy="990.5" r="5.6"/><circle cx="173.0" cy="888.5" r="5.6"/><circle cx="162.6" cy="863.0" r="5.6"/><circle cx="161.6" cy="779.5" r="5.6"/><circle cx="164.9" cy="844.3" r="5.6"/><circle cx="173.8" cy="780.4" r="5.6"/><circle cx="169.8" cy="826.6" r="5.6"/><circle cx="159.4" cy="896.2" r="5.6"/><circle cx="169.5" cy="778.0" r="5.6"/><circle cx="173.3" cy="774.4" r="5.6"/><circle cx="158.7" cy="806.4" r="5.6"/><circle cx="173.9" cy="764.6" r="5.6"/><circle cx="173.5" cy="845.6" r="5.6"/><circle cx="158.2" cy="839.6" r="5.6"/><circle cx="165.3" cy="839.0" r="5.6"/><circle cx="170.3" cy="855.0" r="5.6"/><circle cx="175.0" cy="781.9" r="5.6"/><circle cx="171.6" cy="817.6" r="5.6"/><circle cx="171.1" cy="884.8" r="5.6"/><circle cx="174.9" cy="797.2" r="5.6"/><circle cx="165.2" cy="892.0" r="5.6"/><circle cx="174.9" cy="955.9" r="5.6"/><circle cx="174.8" cy="960.9" r="5.6"/><circle cx="163.5" cy="1013.5" r="5.6"/><circle cx="165.4" cy="967.2" r="5.6"/><circle cx="163.7" cy="964.9" r="5.6"/><circle cx="158.8" cy="909.2" r="5.6"/><circle cx="171.1" cy="984.7" r="5.6"/><circle cx="169.4" cy="1020.4" r="5.6"/><circle cx="160.6" cy="935.1" r="5.6"/><circle cx="161.6" cy="945.6" r="5.6"/><circle cx="171.2" cy="956.1" r="5.6"/><circle cx="162.5" cy="995.4" r="5.6"/><circle cx="159.7" cy="916.0" r="5.6"/><circle cx="169.9" cy="1013.5" r="5.6"/><circle cx="161.9" cy="995.4" r="5.6"/><circle cx="156.7" cy="960.6" r="5.6"/><circle cx="167.6" cy="938.0" r="5.6"/><circle cx="163.0" cy="991.4" r="5.6"/><circle cx="167.8" cy="923.1" r="5.6"/><circle cx="170.1" cy="912.0" r="5.6"/><circle cx="175.4" cy="930.4" r="5.6"/><circle cx="161.1" cy="930.0" r="5.6"/><circle cx="175.8" cy="943.0" r="5.6"/><circle cx="168.1" cy="1048.6" r="5.6"/><circle cx="175.0" cy="906.4" r="5.6"/><circle cx="166.4" cy="990.2" r="5.6"/><circle cx="170.0" cy="950.4" r="5.6"/><circle cx="162.6" cy="900.6" r="5.6"/><circle cx="156.7" cy="982.5" r="5.6"/><circle cx="157.5" cy="930.4" r="5.6"/><circle cx="162.7" cy="910.6" r="5.6"/><circle cx="156.6" cy="1039.0" r="5.6"/><circle cx="164.7" cy="930.7" r="5.6"/><circle cx="170.2" cy="901.4" r="5.6"/><circle cx="160.9" cy="1044.1" r="5.6"/><circle cx="174.0" cy="995.4" r="5.6"/><circle cx="157.9" cy="947.7" r="5.6"/><circle cx="156.6" cy="932.9" r="5.6"/><circle cx="156.5" cy="918.9" r="5.6"/><circle cx="168.7" cy="915.1" r="5.6"/><circle cx="208.9" cy="988.3" r="5.6"/><circle cx="215.3" cy="858.6" r="5.6"/><circle cx="212.5" cy="889.2" r="5.6"/><circle cx="210.7" cy="906.9" r="5.6"/><circle cx="201.7" cy="923.2" r="5.6"/><circle cx="206.7" cy="954.2" r="5.6"/><circle cx="209.3" cy="951.7" r="5.6"/><circle cx="203.2" cy="951.6" r="5.6"/><circle cx="202.3" cy="941.1" r="5.6"/><circle cx="205.0" cy="934.4" r="5.6"/><circle cx="194.4" cy="924.8" r="5.6"/><circle cx="199.3" cy="907.9" r="5.6"/><circle cx="233.3" cy="847.6" r="5.6"/><circle cx="245.9" cy="920.8" r="5.6"/><circle cx="240.0" cy="875.4" r="5.6"/><circle cx="241.7" cy="867.7" r="5.6"/><circle cx="246.7" cy="970.1" r="5.6"/><circle cx="238.1" cy="834.2" r="5.6"/><circle cx="247.2" cy="880.8" r="5.6"/><circle cx="243.5" cy="975.9" r="5.6"/><circle cx="245.8" cy="976.6" r="5.6"/><circle cx="240.8" cy="973.2" r="5.6"/><circle cx="240.4" cy="874.8" r="5.6"/><circle cx="240.7" cy="887.0" r="5.6"/><circle cx="245.3" cy="971.4" r="5.6"/><circle cx="235.3" cy="858.0" r="5.6"/><circle cx="239.1" cy="908.8" r="5.6"/><circle cx="248.3" cy="990.1" r="5.6"/><circle cx="264.9" cy="975.6" r="5.6"/><circle cx="275.7" cy="939.2" r="5.6"/><circle cx="265.3" cy="984.1" r="5.6"/><circle cx="276.0" cy="895.6" r="5.6"/><circle cx="260.6" cy="978.8" r="5.6"/><circle cx="271.0" cy="877.1" r="5.6"/><circle cx="269.2" cy="889.3" r="5.6"/><circle cx="275.5" cy="894.7" r="5.6"/><circle cx="262.5" cy="846.9" r="5.6"/><circle cx="265.2" cy="998.3" r="5.6"/><circle cx="262.9" cy="913.3" r="5.6"/><circle cx="276.5" cy="841.1" r="5.6"/><circle cx="308.0" cy="987.4" r="5.6"/><circle cx="309.2" cy="948.5" r="5.6"/><circle cx="313.5" cy="1015.9" r="5.6"/><circle cx="306.3" cy="982.8" r="5.6"/><circle cx="300.9" cy="1029.9" r="5.6"/><circle cx="307.6" cy="1021.1" r="5.6"/><circle cx="301.2" cy="1036.8" r="5.6"/><circle cx="297.9" cy="955.5" r="5.6"/><circle cx="298.0" cy="894.2" r="5.6"/><circle cx="309.8" cy="871.9" r="5.6"/><circle cx="302.9" cy="894.5" r="5.6"/><circle cx="311.3" cy="874.8" r="5.6"/><circle cx="302.1" cy="1014.1" r="5.6"/><circle cx="308.4" cy="986.6" r="5.6"/><circle cx="313.8" cy="864.2" r="5.6"/><circle cx="308.0" cy="994.1" r="5.6"/><circle cx="309.5" cy="988.5" r="5.6"/><circle cx="297.3" cy="875.1" r="5.6"/><circle cx="309.9" cy="970.1" r="5.6"/><circle cx="300.7" cy="861.7" r="5.6"/><circle cx="305.6" cy="876.3" r="5.6"/><circle cx="309.5" cy="921.3" r="5.6"/><circle cx="310.5" cy="877.2" r="5.6"/><circle cx="304.9" cy="878.0" r="5.6"/><circle cx="310.0" cy="960.8" r="5.6"/><circle cx="300.2" cy="1033.3" r="5.6"/><circle cx="308.3" cy="920.5" r="5.6"/><circle cx="311.4" cy="928.4" r="5.6"/><circle cx="313.0" cy="913.5" r="5.6"/><circle cx="313.7" cy="871.2" r="5.6"/><circle cx="309.2" cy="912.5" r="5.6"/><circle cx="303.6" cy="974.5" r="5.6"/><circle cx="296.8" cy="900.2" r="5.6"/><circle cx="297.9" cy="993.1" r="5.6"/><circle cx="300.0" cy="949.7" r="5.6"/><circle cx="302.3" cy="923.6" r="5.6"/><circle cx="312.0" cy="950.7" r="5.6"/><circle cx="307.4" cy="970.4" r="5.6"/><circle cx="310.1" cy="926.3" r="5.6"/><circle cx="298.3" cy="946.7" r="5.6"/><circle cx="299.7" cy="902.0" r="5.6"/><circle cx="311.7" cy="962.7" r="5.6"/><circle cx="303.6" cy="913.6" r="5.6"/><circle cx="309.2" cy="953.3" r="5.6"/><circle cx="299.8" cy="998.2" r="5.6"/><circle cx="312.2" cy="992.7" r="5.6"/><circle cx="310.2" cy="953.2" r="5.6"/><circle cx="334.3" cy="959.6" r="5.6"/><circle cx="347.6" cy="948.0" r="5.6"/><circle cx="347.1" cy="868.3" r="5.6"/><circle cx="346.8" cy="982.8" r="5.6"/><circle cx="342.6" cy="920.1" r="5.6"/><circle cx="343.8" cy="894.1" r="5.6"/><circle cx="343.2" cy="957.2" r="5.6"/><circle cx="341.1" cy="896.4" r="5.6"/><circle cx="369.5" cy="983.5" r="5.6"/><circle cx="371.0" cy="968.5" r="5.6"/><circle cx="373.4" cy="976.3" r="5.6"/><circle cx="379.9" cy="1014.6" r="5.6"/><circle cx="372.8" cy="1015.7" r="5.6"/><circle cx="379.0" cy="1009.0" r="5.6"/><circle cx="374.7" cy="1028.4" r="5.6"/><circle cx="373.9" cy="905.4" r="5.6"/><circle cx="370.8" cy="990.9" r="5.6"/><circle cx="372.3" cy="954.5" r="5.6"/><circle cx="372.6" cy="918.8" r="5.6"/><circle cx="368.3" cy="896.6" r="5.6"/><circle cx="376.4" cy="939.2" r="5.6"/><circle cx="373.4" cy="1034.0" r="5.6"/><circle cx="375.8" cy="1014.7" r="5.6"/><circle cx="404.6" cy="1011.9" r="5.6"/><circle cx="402.3" cy="968.1" r="5.6"/><circle cx="405.3" cy="1038.3" r="5.6"/><circle cx="402.3" cy="931.2" r="5.6"/><circle cx="397.6" cy="1034.6" r="5.6"/><circle cx="402.0" cy="935.5" r="5.6"/><circle cx="406.5" cy="1029.8" r="5.6"/><circle cx="406.6" cy="939.7" r="5.6"/><circle cx="403.5" cy="954.6" r="5.6"/><circle cx="397.3" cy="1045.5" r="5.6"/><circle cx="404.3" cy="937.5" r="5.6"/><circle cx="411.2" cy="1048.1" r="5.6"/><circle cx="410.1" cy="953.0" r="5.6"/><circle cx="400.0" cy="988.3" r="5.6"/><circle cx="406.3" cy="1034.2" r="5.6"/><circle cx="434.2" cy="1032.7" r="5.6"/><circle cx="451.3" cy="955.1" r="5.6"/><circle cx="444.6" cy="1010.8" r="5.6"/><circle cx="433.2" cy="843.3" r="5.6"/><circle cx="447.6" cy="901.5" r="5.6"/><circle cx="444.2" cy="951.1" r="5.6"/><circle cx="434.2" cy="1043.5" r="5.6"/><circle cx="452.0" cy="860.5" r="5.6"/><circle cx="453.7" cy="950.3" r="5.6"/><circle cx="452.2" cy="992.7" r="5.6"/><circle cx="460.8" cy="864.5" r="5.6"/><circle cx="460.9" cy="938.7" r="5.6"/><circle cx="438.6" cy="917.3" r="5.6"/><circle cx="443.2" cy="1025.3" r="5.6"/><circle cx="447.7" cy="853.8" r="5.6"/><circle cx="453.0" cy="943.0" r="5.6"/><circle cx="455.8" cy="849.6" r="5.6"/><circle cx="457.2" cy="1024.8" r="5.6"/><circle cx="433.2" cy="938.7" r="5.6"/><circle cx="436.4" cy="949.6" r="5.6"/><circle cx="435.5" cy="1023.6" r="5.6"/><circle cx="438.1" cy="978.3" r="5.6"/><circle cx="451.3" cy="906.4" r="5.6"/><circle cx="439.0" cy="1029.5" r="5.6"/><circle cx="434.1" cy="892.6" r="5.6"/><circle cx="442.1" cy="960.9" r="5.6"/><circle cx="443.3" cy="863.1" r="5.6"/><circle cx="449.0" cy="989.9" r="5.6"/><circle cx="452.7" cy="941.3" r="5.6"/><circle cx="441.6" cy="842.1" r="5.6"/><circle cx="447.9" cy="970.1" r="5.6"/><circle cx="445.4" cy="1038.6" r="5.6"/><circle cx="438.7" cy="1008.5" r="5.6"/><circle cx="453.1" cy="1026.2" r="5.6"/><circle cx="458.9" cy="889.0" r="5.6"/><circle cx="458.8" cy="923.5" r="5.6"/><circle cx="452.0" cy="1037.2" r="5.6"/><circle cx="449.7" cy="960.7" r="5.6"/><circle cx="435.0" cy="963.5" r="5.6"/><circle cx="439.8" cy="920.4" r="5.6"/><circle cx="443.6" cy="1041.5" r="5.6"/><circle cx="450.9" cy="990.1" r="5.6"/><circle cx="437.8" cy="903.0" r="5.6"/><circle cx="457.6" cy="864.9" r="5.6"/><circle cx="459.7" cy="928.5" r="5.6"/><circle cx="442.8" cy="882.4" r="5.6"/><circle cx="440.1" cy="992.0" r="5.6"/><circle cx="436.1" cy="886.5" r="5.6"/><circle cx="438.2" cy="987.0" r="5.6"/><circle cx="444.4" cy="963.0" r="5.6"/><circle cx="451.5" cy="932.1" r="5.6"/><circle cx="452.1" cy="935.3" r="5.6"/><circle cx="447.9" cy="916.8" r="5.6"/><circle cx="436.0" cy="951.2" r="5.6"/><circle cx="441.8" cy="913.0" r="5.6"/><circle cx="455.3" cy="923.4" r="5.6"/><circle cx="438.3" cy="955.6" r="5.6"/><circle cx="447.8" cy="886.9" r="5.6"/><circle cx="443.7" cy="953.3" r="5.6"/><circle cx="442.2" cy="998.3" r="5.6"/><circle cx="453.6" cy="940.5" r="5.6"/><circle cx="456.1" cy="884.2" r="5.6"/><circle cx="440.9" cy="989.8" r="5.6"/>
</g>
<g fill="#00BFC4" fill-opacity="0.055" stroke="#00BFC4" stroke-opacity="0.12" stroke-width="1.0">
<circle cx="123.1" cy="899.9" r="5.6"/><circle cx="119.1" cy="1011.4" r="5.6"/><circle cx="117.8" cy="983.7" r="5.6"/><circle cx="111.6" cy="986.4" r="5.6"/><circle cx="126.6" cy="1002.1" r="5.6"/><circle cx="124.3" cy="929.3" r="5.6"/><circle cx="110.9" cy="953.0" r="5.6"/><circle cx="126.2" cy="900.5" r="5.6"/><circle cx="115.4" cy="955.8" r="5.6"/><circle cx="126.0" cy="1013.5" r="5.6"/><circle cx="112.3" cy="899.5" r="5.6"/><circle cx="127.1" cy="973.1" r="5.6"/><circle cx="125.4" cy="1029.5" r="5.6"/><circle cx="130.2" cy="1004.9" r="5.6"/><circle cx="126.6" cy="933.2" r="5.6"/><circle cx="123.6" cy="899.5" r="5.6"/><circle cx="126.2" cy="991.2" r="5.6"/><circle cx="125.4" cy="941.2" r="5.6"/><circle cx="117.8" cy="937.2" r="5.6"/><circle cx="110.2" cy="1005.1" r="5.6"/><circle cx="121.4" cy="932.0" r="5.6"/><circle cx="121.6" cy="985.5" r="5.6"/><circle cx="117.9" cy="1002.9" r="5.6"/><circle cx="129.7" cy="932.0" r="5.6"/><circle cx="112.5" cy="991.7" r="5.6"/><circle cx="131.3" cy="893.7" r="5.6"/><circle cx="125.2" cy="1002.1" r="5.6"/><circle cx="129.8" cy="889.7" r="5.6"/><circle cx="111.5" cy="1028.1" r="5.6"/><circle cx="112.1" cy="898.3" r="5.6"/><circle cx="122.1" cy="941.4" r="5.6"/><circle cx="126.0" cy="900.5" r="5.6"/><circle cx="129.6" cy="904.8" r="5.6"/><circle cx="126.4" cy="880.8" r="5.6"/><circle cx="119.9" cy="875.2" r="5.6"/><circle cx="116.4" cy="920.0" r="5.6"/><circle cx="125.3" cy="942.8" r="5.6"/><circle cx="110.7" cy="1029.3" r="5.6"/><circle cx="129.1" cy="1016.6" r="5.6"/><circle cx="114.9" cy="933.1" r="5.6"/><circle cx="114.5" cy="890.0" r="5.6"/><circle cx="110.2" cy="950.5" r="5.6"/><circle cx="112.2" cy="898.2" r="5.6"/><circle cx="128.4" cy="947.5" r="5.6"/><circle cx="113.5" cy="977.2" r="5.6"/><circle cx="115.3" cy="954.3" r="5.6"/><circle cx="115.7" cy="952.6" r="5.6"/><circle cx="123.3" cy="955.8" r="5.6"/><circle cx="118.2" cy="996.5" r="5.6"/><circle cx="128.7" cy="898.7" r="5.6"/><circle cx="111.8" cy="1041.1" r="5.6"/><circle cx="158.4" cy="1027.0" r="5.6"/><circle cx="162.4" cy="921.6" r="5.6"/><circle cx="156.9" cy="1007.2" r="5.6"/><circle cx="169.9" cy="961.2" r="5.6"/><circle cx="168.6" cy="878.6" r="5.6"/><circle cx="160.7" cy="968.0" r="5.6"/><circle cx="175.9" cy="1011.2" r="5.6"/><circle cx="169.1" cy="956.0" r="5.6"/><circle cx="155.3" cy="1024.8" r="5.6"/><circle cx="156.5" cy="883.9" r="5.6"/><circle cx="170.2" cy="1010.2" r="5.6"/><circle cx="172.3" cy="943.7" r="5.6"/><circle cx="158.9" cy="866.5" r="5.6"/><circle cx="173.7" cy="1040.9" r="5.6"/><circle cx="160.4" cy="1020.2" r="5.6"/><circle cx="163.9" cy="917.6" r="5.6"/><circle cx="166.1" cy="861.5" r="5.6"/><circle cx="164.7" cy="896.9" r="5.6"/><circle cx="170.7" cy="953.0" r="5.6"/><circle cx="174.1" cy="1025.9" r="5.6"/><circle cx="162.0" cy="911.9" r="5.6"/><circle cx="175.7" cy="953.2" r="5.6"/><circle cx="157.1" cy="868.5" r="5.6"/><circle cx="176.8" cy="967.1" r="5.6"/><circle cx="156.2" cy="954.6" r="5.6"/><circle cx="166.1" cy="940.5" r="5.6"/><circle cx="175.9" cy="1035.5" r="5.6"/><circle cx="157.7" cy="888.1" r="5.6"/><circle cx="164.0" cy="1014.3" r="5.6"/><circle cx="168.7" cy="995.0" r="5.6"/><circle cx="167.7" cy="898.9" r="5.6"/><circle cx="173.0" cy="862.6" r="5.6"/><circle cx="170.4" cy="896.0" r="5.6"/><circle cx="165.4" cy="1040.4" r="5.6"/><circle cx="166.9" cy="870.5" r="5.6"/><circle cx="164.4" cy="982.1" r="5.6"/><circle cx="156.2" cy="906.7" r="5.6"/><circle cx="155.4" cy="959.9" r="5.6"/><circle cx="163.4" cy="953.2" r="5.6"/><circle cx="161.5" cy="981.5" r="5.6"/><circle cx="158.8" cy="1027.7" r="5.6"/><circle cx="176.1" cy="951.2" r="5.6"/><circle cx="165.2" cy="1019.0" r="5.6"/><circle cx="161.4" cy="1008.6" r="5.6"/><circle cx="161.3" cy="993.2" r="5.6"/><circle cx="162.3" cy="971.5" r="5.6"/><circle cx="175.4" cy="870.1" r="5.6"/><circle cx="172.8" cy="960.2" r="5.6"/><circle cx="163.3" cy="924.8" r="5.6"/><circle cx="156.5" cy="907.8" r="5.6"/><circle cx="168.7" cy="878.1" r="5.6"/><circle cx="169.7" cy="1038.0" r="5.6"/><circle cx="176.6" cy="1024.5" r="5.6"/><circle cx="172.7" cy="892.9" r="5.6"/><circle cx="176.3" cy="897.5" r="5.6"/><circle cx="174.1" cy="1022.4" r="5.6"/><circle cx="168.7" cy="956.4" r="5.6"/><circle cx="159.4" cy="956.1" r="5.6"/><circle cx="161.4" cy="883.3" r="5.6"/><circle cx="157.8" cy="1008.2" r="5.6"/><circle cx="173.6" cy="962.8" r="5.6"/><circle cx="157.2" cy="973.7" r="5.6"/><circle cx="159.4" cy="967.0" r="5.6"/><circle cx="167.5" cy="988.0" r="5.6"/><circle cx="164.7" cy="968.5" r="5.6"/><circle cx="169.0" cy="976.1" r="5.6"/><circle cx="164.2" cy="991.7" r="5.6"/><circle cx="173.3" cy="972.2" r="5.6"/><circle cx="169.9" cy="977.8" r="5.6"/><circle cx="173.1" cy="985.5" r="5.6"/><circle cx="166.1" cy="1028.9" r="5.6"/><circle cx="169.1" cy="958.5" r="5.6"/><circle cx="159.5" cy="1039.2" r="5.6"/><circle cx="157.5" cy="977.1" r="5.6"/><circle cx="174.3" cy="951.4" r="5.6"/><circle cx="198.5" cy="881.6" r="5.6"/><circle cx="215.4" cy="987.7" r="5.6"/><circle cx="210.1" cy="1012.0" r="5.6"/><circle cx="195.0" cy="896.5" r="5.6"/><circle cx="206.0" cy="889.0" r="5.6"/><circle cx="206.1" cy="1012.5" r="5.6"/><circle cx="209.8" cy="991.0" r="5.6"/><circle cx="195.1" cy="922.6" r="5.6"/><circle cx="215.5" cy="902.2" r="5.6"/><circle cx="206.8" cy="889.0" r="5.6"/><circle cx="216.5" cy="910.9" r="5.6"/><circle cx="203.8" cy="978.4" r="5.6"/><circle cx="211.2" cy="1048.7" r="5.6"/><circle cx="211.7" cy="942.5" r="5.6"/><circle cx="195.8" cy="1007.3" r="5.6"/><circle cx="217.3" cy="883.1" r="5.6"/><circle cx="212.6" cy="911.7" r="5.6"/><circle cx="205.0" cy="974.1" r="5.6"/><circle cx="208.7" cy="1058.1" r="5.6"/><circle cx="210.5" cy="950.6" r="5.6"/><circle cx="211.2" cy="964.0" r="5.6"/><circle cx="203.9" cy="945.8" r="5.6"/><circle cx="205.8" cy="930.6" r="5.6"/><circle cx="199.8" cy="906.7" r="5.6"/><circle cx="204.6" cy="932.8" r="5.6"/><circle cx="214.1" cy="1032.6" r="5.6"/><circle cx="202.3" cy="991.4" r="5.6"/><circle cx="215.7" cy="944.6" r="5.6"/><circle cx="207.3" cy="959.8" r="5.6"/><circle cx="209.6" cy="1052.8" r="5.6"/><circle cx="197.3" cy="1053.8" r="5.6"/><circle cx="210.0" cy="1023.3" r="5.6"/><circle cx="209.2" cy="1036.7" r="5.6"/><circle cx="201.8" cy="1007.4" r="5.6"/><circle cx="200.3" cy="971.6" r="5.6"/><circle cx="210.4" cy="916.2" r="5.6"/><circle cx="195.5" cy="1022.4" r="5.6"/><circle cx="213.4" cy="999.8" r="5.6"/><circle cx="201.7" cy="998.5" r="5.6"/><circle cx="196.0" cy="999.3" r="5.6"/><circle cx="207.8" cy="991.1" r="5.6"/><circle cx="204.7" cy="920.5" r="5.6"/><circle cx="211.4" cy="963.5" r="5.6"/><circle cx="211.9" cy="945.6" r="5.6"/><circle cx="196.1" cy="977.6" r="5.6"/><circle cx="248.5" cy="996.8" r="5.6"/><circle cx="243.8" cy="923.3" r="5.6"/><circle cx="239.0" cy="880.4" r="5.6"/><circle cx="246.3" cy="924.2" r="5.6"/><circle cx="234.3" cy="930.5" r="5.6"/><circle cx="238.2" cy="995.8" r="5.6"/><circle cx="233.1" cy="916.8" r="5.6"/><circle cx="247.3" cy="1016.8" r="5.6"/><circle cx="243.1" cy="969.4" r="5.6"/><circle cx="236.6" cy="1020.0" r="5.6"/><circle cx="245.2" cy="962.1" r="5.6"/><circle cx="235.6" cy="914.5" r="5.6"/><circle cx="239.1" cy="933.0" r="5.6"/><circle cx="234.0" cy="945.0" r="5.6"/><circle cx="240.2" cy="925.9" r="5.6"/><circle cx="239.1" cy="933.2" r="5.6"/><circle cx="239.0" cy="979.0" r="5.6"/><circle cx="241.0" cy="911.6" r="5.6"/><circle cx="245.7" cy="962.1" r="5.6"/><circle cx="240.3" cy="994.1" r="5.6"/><circle cx="264.3" cy="1027.8" r="5.6"/><circle cx="260.7" cy="1047.1" r="5.6"/><circle cx="274.0" cy="905.7" r="5.6"/><circle cx="269.7" cy="980.0" r="5.6"/><circle cx="271.5" cy="935.2" r="5.6"/><circle cx="265.9" cy="923.3" r="5.6"/><circle cx="264.3" cy="911.6" r="5.6"/><circle cx="275.3" cy="1039.7" r="5.6"/><circle cx="265.5" cy="1004.8" r="5.6"/><circle cx="267.8" cy="930.5" r="5.6"/><circle cx="265.3" cy="1053.7" r="5.6"/><circle cx="265.1" cy="984.2" r="5.6"/><circle cx="276.0" cy="933.6" r="5.6"/><circle cx="273.6" cy="900.5" r="5.6"/><circle cx="272.2" cy="1025.2" r="5.6"/><circle cx="274.1" cy="1055.5" r="5.6"/><circle cx="271.8" cy="1055.9" r="5.6"/><circle cx="264.0" cy="973.9" r="5.6"/><circle cx="262.9" cy="895.0" r="5.6"/><circle cx="266.9" cy="1009.5" r="5.6"/><circle cx="273.0" cy="883.1" r="5.6"/><circle cx="276.0" cy="924.5" r="5.6"/><circle cx="264.3" cy="1029.8" r="5.6"/><circle cx="275.1" cy="1012.6" r="5.6"/><circle cx="300.9" cy="948.7" r="5.6"/><circle cx="298.1" cy="881.0" r="5.6"/><circle cx="307.7" cy="1006.9" r="5.6"/><circle cx="302.7" cy="937.2" r="5.6"/><circle cx="299.7" cy="963.3" r="5.6"/><circle cx="306.4" cy="1044.9" r="5.6"/><circle cx="296.7" cy="1039.9" r="5.6"/><circle cx="313.8" cy="928.6" r="5.6"/><circle cx="309.1" cy="1023.3" r="5.6"/><circle cx="307.7" cy="917.2" r="5.6"/><circle cx="307.2" cy="1033.6" r="5.6"/><circle cx="297.9" cy="955.0" r="5.6"/><circle cx="296.4" cy="1027.3" r="5.6"/><circle cx="310.0" cy="869.1" r="5.6"/><circle cx="309.4" cy="996.9" r="5.6"/><circle cx="298.3" cy="964.0" r="5.6"/><circle cx="308.4" cy="926.4" r="5.6"/><circle cx="305.1" cy="1053.2" r="5.6"/><circle cx="307.4" cy="959.4" r="5.6"/><circle cx="297.2" cy="884.0" r="5.6"/><circle cx="311.3" cy="1007.0" r="5.6"/><circle cx="311.0" cy="974.5" r="5.6"/><circle cx="306.4" cy="965.1" r="5.6"/><circle cx="309.2" cy="925.4" r="5.6"/><circle cx="304.9" cy="953.0" r="5.6"/><circle cx="307.9" cy="902.8" r="5.6"/><circle cx="296.5" cy="877.5" r="5.6"/><circle cx="299.2" cy="1029.7" r="5.6"/><circle cx="308.9" cy="1008.5" r="5.6"/><circle cx="304.0" cy="880.3" r="5.6"/><circle cx="304.4" cy="1030.9" r="5.6"/><circle cx="305.2" cy="985.1" r="5.6"/><circle cx="302.7" cy="889.7" r="5.6"/><circle cx="307.3" cy="956.0" r="5.6"/><circle cx="302.2" cy="911.2" r="5.6"/><circle cx="308.5" cy="922.9" r="5.6"/><circle cx="306.4" cy="911.4" r="5.6"/><circle cx="309.6" cy="934.2" r="5.6"/><circle cx="304.6" cy="1043.7" r="5.6"/><circle cx="308.9" cy="1005.8" r="5.6"/><circle cx="302.1" cy="1026.4" r="5.6"/><circle cx="302.9" cy="1055.7" r="5.6"/><circle cx="312.1" cy="990.5" r="5.6"/><circle cx="311.0" cy="967.7" r="5.6"/><circle cx="309.2" cy="884.7" r="5.6"/><circle cx="313.8" cy="1018.4" r="5.6"/><circle cx="298.6" cy="908.0" r="5.6"/><circle cx="306.3" cy="1011.0" r="5.6"/><circle cx="298.7" cy="1050.2" r="5.6"/><circle cx="302.2" cy="1057.0" r="5.6"/><circle cx="309.5" cy="956.1" r="5.6"/><circle cx="302.5" cy="879.1" r="5.6"/><circle cx="297.6" cy="984.6" r="5.6"/><circle cx="309.9" cy="1039.7" r="5.6"/><circle cx="302.6" cy="1045.7" r="5.6"/><circle cx="301.3" cy="1046.1" r="5.6"/><circle cx="312.5" cy="890.7" r="5.6"/><circle cx="311.5" cy="999.3" r="5.6"/><circle cx="308.6" cy="1026.4" r="5.6"/><circle cx="305.7" cy="960.3" r="5.6"/><circle cx="302.9" cy="994.5" r="5.6"/><circle cx="311.4" cy="913.5" r="5.6"/><circle cx="309.4" cy="926.7" r="5.6"/><circle cx="299.9" cy="917.7" r="5.6"/><circle cx="306.2" cy="927.2" r="5.6"/><circle cx="300.9" cy="906.3" r="5.6"/><circle cx="302.2" cy="984.0" r="5.6"/><circle cx="297.3" cy="950.5" r="5.6"/><circle cx="306.6" cy="900.7" r="5.6"/><circle cx="301.7" cy="999.2" r="5.6"/><circle cx="312.9" cy="992.8" r="5.6"/><circle cx="299.7" cy="982.9" r="5.6"/><circle cx="304.2" cy="914.6" r="5.6"/><circle cx="304.7" cy="1001.1" r="5.6"/><circle cx="311.0" cy="940.0" r="5.6"/><circle cx="298.0" cy="998.6" r="5.6"/><circle cx="312.8" cy="953.8" r="5.6"/><circle cx="300.6" cy="957.5" r="5.6"/><circle cx="308.1" cy="950.5" r="5.6"/><circle cx="302.6" cy="923.5" r="5.6"/><circle cx="301.7" cy="900.7" r="5.6"/><circle cx="301.1" cy="1004.6" r="5.6"/><circle cx="297.1" cy="978.7" r="5.6"/><circle cx="309.6" cy="941.5" r="5.6"/><circle cx="306.5" cy="920.4" r="5.6"/><circle cx="345.3" cy="1004.9" r="5.6"/><circle cx="336.0" cy="1010.7" r="5.6"/><circle cx="341.6" cy="975.1" r="5.6"/><circle cx="346.1" cy="918.0" r="5.6"/><circle cx="347.2" cy="1021.2" r="5.6"/><circle cx="345.4" cy="912.4" r="5.6"/><circle cx="341.0" cy="867.6" r="5.6"/><circle cx="344.6" cy="1023.3" r="5.6"/><circle cx="335.1" cy="991.6" r="5.6"/><circle cx="343.6" cy="837.9" r="5.6"/><circle cx="347.2" cy="934.0" r="5.6"/><circle cx="336.8" cy="836.6" r="5.6"/><circle cx="345.0" cy="903.3" r="5.6"/><circle cx="340.7" cy="872.3" r="5.6"/><circle cx="342.2" cy="916.2" r="5.6"/><circle cx="345.4" cy="974.6" r="5.6"/><circle cx="344.0" cy="884.5" r="5.6"/><circle cx="333.5" cy="1021.0" r="5.6"/><circle cx="347.5" cy="969.6" r="5.6"/><circle cx="347.2" cy="983.3" r="5.6"/><circle cx="342.2" cy="920.9" r="5.6"/><circle cx="338.2" cy="936.3" r="5.6"/><circle cx="336.1" cy="922.8" r="5.6"/><circle cx="340.6" cy="836.8" r="5.6"/><circle cx="338.8" cy="891.7" r="5.6"/><circle cx="342.6" cy="1006.2" r="5.6"/><circle cx="342.3" cy="974.1" r="5.6"/><circle cx="342.3" cy="885.6" r="5.6"/><circle cx="338.5" cy="1013.2" r="5.6"/><circle cx="347.6" cy="869.3" r="5.6"/><circle cx="332.7" cy="1038.6" r="5.6"/><circle cx="346.3" cy="961.8" r="5.6"/><circle cx="345.6" cy="959.0" r="5.6"/><circle cx="347.0" cy="882.8" r="5.6"/><circle cx="339.6" cy="975.5" r="5.6"/><circle cx="336.0" cy="985.1" r="5.6"/><circle cx="336.7" cy="984.1" r="5.6"/><circle cx="345.4" cy="922.0" r="5.6"/><circle cx="348.3" cy="967.0" r="5.6"/><circle cx="344.6" cy="834.5" r="5.6"/><circle cx="377.7" cy="1032.6" r="5.6"/><circle cx="367.9" cy="941.5" r="5.6"/><circle cx="380.3" cy="954.3" r="5.6"/><circle cx="380.3" cy="909.6" r="5.6"/><circle cx="367.8" cy="1023.3" r="5.6"/><circle cx="412.5" cy="1029.2" r="5.6"/><circle cx="402.5" cy="990.3" r="5.6"/><circle cx="399.0" cy="982.3" r="5.6"/><circle cx="398.1" cy="933.4" r="5.6"/><circle cx="399.0" cy="956.2" r="5.6"/><circle cx="402.0" cy="1004.6" r="5.6"/><circle cx="443.9" cy="946.5" r="5.6"/><circle cx="445.4" cy="937.4" r="5.6"/><circle cx="444.9" cy="985.3" r="5.6"/><circle cx="440.7" cy="874.5" r="5.6"/><circle cx="445.2" cy="858.3" r="5.6"/><circle cx="445.5" cy="942.3" r="5.6"/><circle cx="455.0" cy="862.6" r="5.6"/><circle cx="444.1" cy="1001.6" r="5.6"/><circle cx="442.5" cy="1013.1" r="5.6"/><circle cx="453.1" cy="848.6" r="5.6"/><circle cx="443.8" cy="998.6" r="5.6"/><circle cx="447.7" cy="979.3" r="5.6"/><circle cx="460.7" cy="979.8" r="5.6"/><circle cx="448.3" cy="1015.1" r="5.6"/><circle cx="445.0" cy="842.2" r="5.6"/><circle cx="440.6" cy="963.1" r="5.6"/><circle cx="459.6" cy="965.7" r="5.6"/><circle cx="440.9" cy="1045.6" r="5.6"/><circle cx="444.2" cy="887.2" r="5.6"/><circle cx="448.5" cy="911.2" r="5.6"/><circle cx="436.1" cy="987.5" r="5.6"/><circle cx="452.4" cy="1041.2" r="5.6"/><circle cx="436.8" cy="1028.5" r="5.6"/><circle cx="455.3" cy="892.4" r="5.6"/><circle cx="446.4" cy="970.4" r="5.6"/><circle cx="441.8" cy="862.3" r="5.6"/><circle cx="456.4" cy="874.1" r="5.6"/><circle cx="446.7" cy="930.6" r="5.6"/><circle cx="458.3" cy="955.7" r="5.6"/><circle cx="444.9" cy="1042.2" r="5.6"/><circle cx="442.9" cy="990.4" r="5.6"/><circle cx="439.6" cy="996.7" r="5.6"/><circle cx="454.0" cy="1011.4" r="5.6"/><circle cx="446.6" cy="886.0" r="5.6"/><circle cx="450.7" cy="1028.4" r="5.6"/><circle cx="447.2" cy="900.4" r="5.6"/><circle cx="448.5" cy="967.6" r="5.6"/><circle cx="449.3" cy="885.5" r="5.6"/><circle cx="436.8" cy="928.9" r="5.6"/><circle cx="436.4" cy="890.1" r="5.6"/><circle cx="450.1" cy="932.6" r="5.6"/><circle cx="437.9" cy="985.2" r="5.6"/><circle cx="444.1" cy="986.0" r="5.6"/><circle cx="449.4" cy="954.5" r="5.6"/><circle cx="445.3" cy="960.6" r="5.6"/><circle cx="441.4" cy="910.9" r="5.6"/><circle cx="455.2" cy="904.4" r="5.6"/>
</g>
<g fill="#C77CFF" fill-opacity="0.055" stroke="#C77CFF" stroke-opacity="0.12" stroke-width="1.0">
<circle cx="112.2" cy="951.4" r="5.6"/><circle cx="110.7" cy="996.5" r="5.6"/><circle cx="122.3" cy="980.4" r="5.6"/><circle cx="115.3" cy="980.2" r="5.6"/><circle cx="158.6" cy="882.0" r="5.6"/><circle cx="156.9" cy="920.8" r="5.6"/><circle cx="168.0" cy="897.7" r="5.6"/><circle cx="157.4" cy="971.6" r="5.6"/><circle cx="172.7" cy="934.3" r="5.6"/><circle cx="158.0" cy="931.3" r="5.6"/><circle cx="168.8" cy="914.2" r="5.6"/><circle cx="195.8" cy="965.7" r="5.6"/><circle cx="215.4" cy="935.5" r="5.6"/><circle cx="196.5" cy="962.0" r="5.6"/><circle cx="197.0" cy="989.2" r="5.6"/><circle cx="196.9" cy="936.2" r="5.6"/><circle cx="301.4" cy="945.2" r="5.6"/><circle cx="298.7" cy="941.7" r="5.6"/><circle cx="297.2" cy="881.4" r="5.6"/><circle cx="308.9" cy="914.3" r="5.6"/><circle cx="308.6" cy="958.0" r="5.6"/><circle cx="311.0" cy="941.6" r="5.6"/><circle cx="372.8" cy="941.0" r="5.6"/><circle cx="380.1" cy="906.3" r="5.6"/><circle cx="380.6" cy="927.6" r="5.6"/><circle cx="443.8" cy="969.4" r="5.6"/><circle cx="442.2" cy="923.9" r="5.6"/><circle cx="458.5" cy="904.8" r="5.6"/><circle cx="439.8" cy="986.4" r="5.6"/><circle cx="440.7" cy="919.7" r="5.6"/>
</g>
<line x1="115.6" y1="782.8" x2="643.6" y2="777.8" stroke="#F8766D" stroke-opacity="0.76" stroke-width="3.0"/>
<polyline points="115.6,773.8 379.6,770.6 643.6,754.7" fill="none" stroke="#F8766D" stroke-opacity="0.6" stroke-width="3.0" stroke-dasharray="11.8 11.8" stroke-linejoin="round"/>
<polyline points="115.6,791.8 379.6,789.5 643.6,800.9" fill="none" stroke="#F8766D" stroke-opacity="0.6" stroke-width="3.0" stroke-dasharray="11.8 11.8" stroke-linejoin="round"/>
<line x1="115.6" y1="889.6" x2="643.6" y2="981.2" stroke="#7CAE00" stroke-opacity="0.76" stroke-width="3.0"/>
<polyline points="115.6,874.7 379.6,923.2 643.6,951.4" fill="none" stroke="#7CAE00" stroke-opacity="0.6" stroke-width="3.0" stroke-dasharray="11.8 11.8" stroke-linejoin="round"/>
<polyline points="115.6,904.4 379.6,947.0 643.6,1011.1" fill="none" stroke="#7CAE00" stroke-opacity="0.6" stroke-width="3.0" stroke-dasharray="11.8 11.8" stroke-linejoin="round"/>
<line x1="115.6" y1="951.3" x2="643.6" y2="929.1" stroke="#00BFC4" stroke-opacity="0.76" stroke-width="3.0"/>
<polyline points="115.6,939.1 379.6,928.4 643.6,899.2" fill="none" stroke="#00BFC4" stroke-opacity="0.6" stroke-width="3.0" stroke-dasharray="11.8 11.8" stroke-linejoin="round"/>
<polyline points="115.6,963.6 379.6,952.3 643.6,959.0" fill="none" stroke="#00BFC4" stroke-opacity="0.6" stroke-width="3.0" stroke-dasharray="11.8 11.8" stroke-linejoin="round"/>
<line x1="115.6" y1="897.2" x2="643.6" y2="926.4" stroke="#C77CFF" stroke-opacity="0.76" stroke-width="3.0"/>
<polyline points="115.6,854.3 379.6,887.9 643.6,856.1" fill="none" stroke="#C77CFF" stroke-opacity="0.6" stroke-width="3.0" stroke-dasharray="11.8 11.8" stroke-linejoin="round"/>
<polyline points="115.6,940.0 379.6,935.5 643.6,996.6" fill="none" stroke="#C77CFF" stroke-opacity="0.6" stroke-width="3.0" stroke-dasharray="11.8 11.8" stroke-linejoin="round"/>
</g>
<line x1="73.2" y1="697.8" x2="81.3" y2="697.8" stroke="#333333" stroke-width="2.5"/>
<text x="67.2" y="707.2" text-anchor="end" font-size="26" fill="#4D4D4D" stroke="#4D4D4D" stroke-width="0.35">8</text>
<line x1="73.2" y1="827.8" x2="81.3" y2="827.8" stroke="#333333" stroke-width="2.5"/>
<text x="67.2" y="837.2" text-anchor="end" font-size="26" fill="#4D4D4D" stroke="#4D4D4D" stroke-width="0.35">6</text>
<line x1="73.2" y1="957.8" x2="81.3" y2="957.8" stroke="#333333" stroke-width="2.5"/>
<text x="67.2" y="967.2" text-anchor="end" font-size="26" fill="#4D4D4D" stroke="#4D4D4D" stroke-width="0.35">4</text>
<line x1="73.2" y1="1087.7" x2="81.3" y2="1087.7" stroke="#333333" stroke-width="2.5"/>
<text x="67.2" y="1097.1" text-anchor="end" font-size="26" fill="#4D4D4D" stroke="#4D4D4D" stroke-width="0.35">2</text>
<line x1="115.6" y1="1109.3" x2="115.6" y2="1116.6" stroke="#333333" stroke-width="2.5"/>
<text x="115.6" y="1141.9" text-anchor="middle" font-size="26" fill="#4D4D4D" stroke="#4D4D4D" stroke-width="0.35">0.00</text>
<line x1="247.6" y1="1109.3" x2="247.6" y2="1116.6" stroke="#333333" stroke-width="2.5"/>
<text x="247.6" y="1141.9" text-anchor="middle" font-size="26" fill="#4D4D4D" stroke="#4D4D4D" stroke-width="0.35">0.25</text>
<line x1="379.6" y1="1109.3" x2="379.6" y2="1116.6" stroke="#333333" stroke-width="2.5"/>
<text x="379.6" y="1141.9" text-anchor="middle" font-size="26" fill="#4D4D4D" stroke="#4D4D4D" stroke-width="0.35">0.50</text>
<line x1="511.6" y1="1109.3" x2="511.6" y2="1116.6" stroke="#333333" stroke-width="2.5"/>
<text x="511.6" y="1141.9" text-anchor="middle" font-size="26" fill="#4D4D4D" stroke="#4D4D4D" stroke-width="0.35">0.75</text>
<line x1="643.6" y1="1109.3" x2="643.6" y2="1116.6" stroke="#333333" stroke-width="2.5"/>
<text x="643.6" y="1141.9" text-anchor="middle" font-size="26" fill="#4D4D4D" stroke="#4D4D4D" stroke-width="0.35">1.00</text>
<polyline points="81.3,644.4 81.3,1109.3 670.4,1109.3" fill="none" stroke="#000" stroke-width="2.5" stroke-linejoin="round"/>
<text transform="translate(375.9,1178.0) scale(1.055,1)" text-anchor="middle" font-size="30.5" fill="#000" stroke="#000" stroke-width="0.35">Artificial surface [%]</text>
<text transform="translate(37.5,876.8) rotate(-90) scale(1.055,1)" x="0" y="0" text-anchor="middle" font-size="30.2" fill="#000" stroke="#000" stroke-width="0.35">Length (log)</text>
<text x="144.4" y="672.5" font-size="42.5" font-weight="bold" fill="#000">B</text>
</svg></body></html>
